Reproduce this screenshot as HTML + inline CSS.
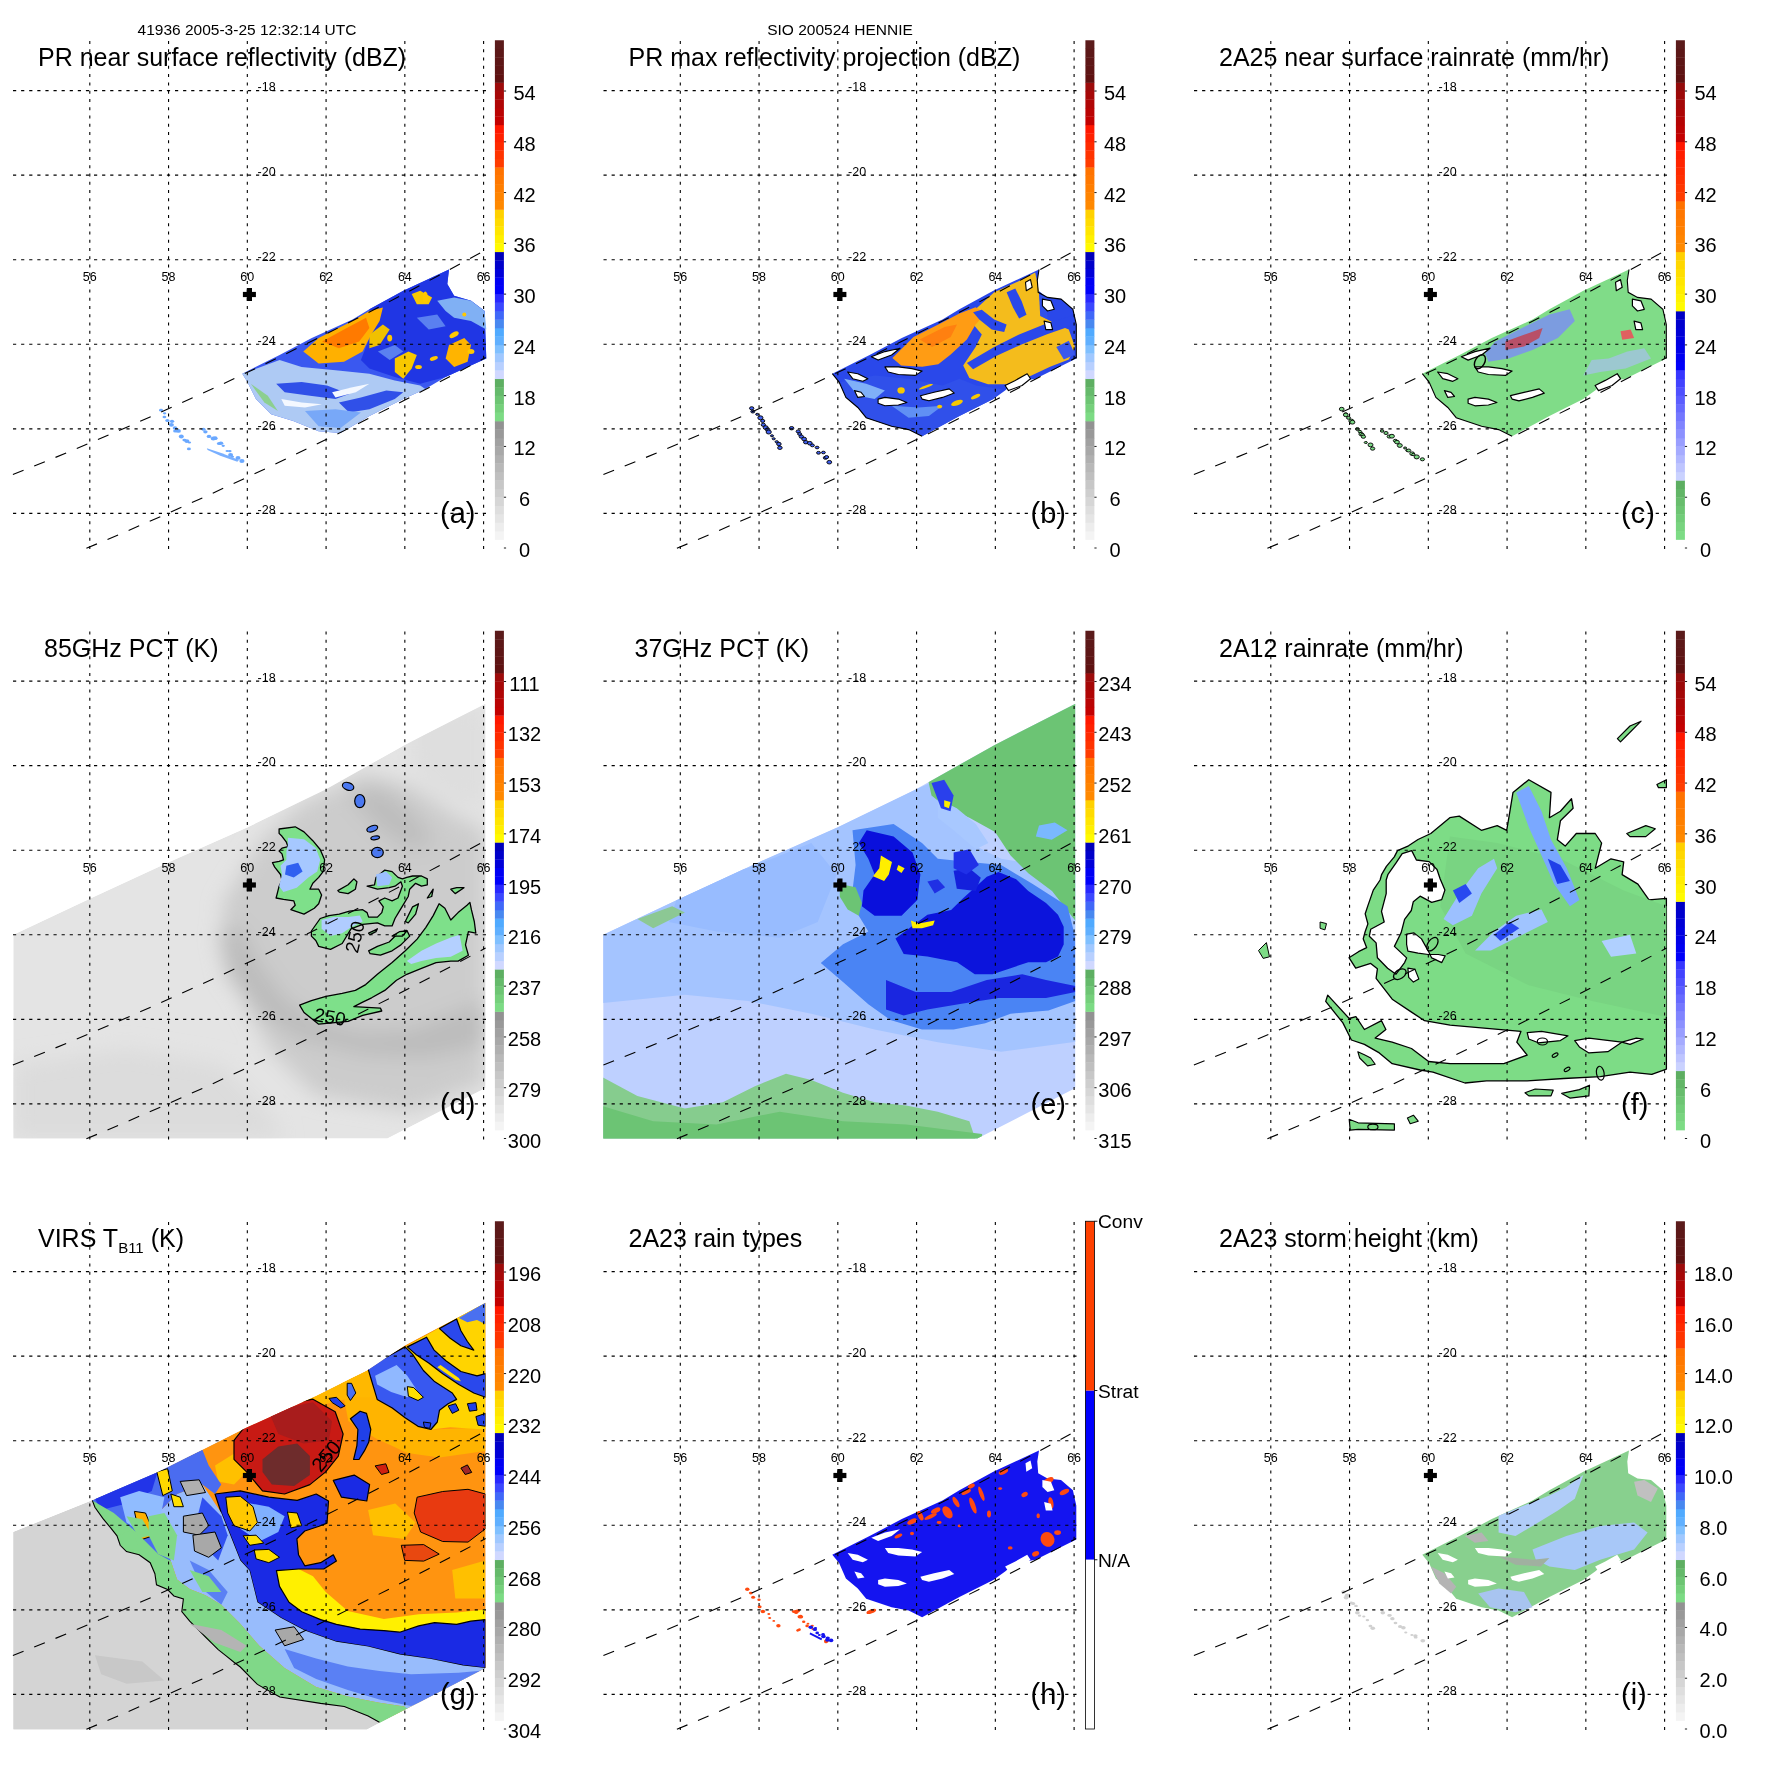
<!DOCTYPE html>
<html><head><meta charset="utf-8"><style>html,body{margin:0;padding:0;background:#fff;overflow:hidden}svg{display:block;will-change:transform}</style></head>
<body><svg width="1771" height="1771" viewBox="0 0 1771 1771" font-family="Liberation Sans, sans-serif">
<rect width="1771" height="1771" fill="#fff"/>
<text x="247" y="35" font-size="15.5" text-anchor="middle">41936 2005-3-25 12:32:14 UTC</text><text x="840" y="35" font-size="15.5" text-anchor="middle">SIO 200524 HENNIE</text><g transform="translate(0.0,0.0)"><g><path d="M242.3,373.7 L279.6,355.0 L311.8,338.1 L352.5,319.5 L369.4,309.3 L403.3,290.7 L449.0,269.5 L449.0,269.5 L447.3,283.9 L454.1,295.7 L471.0,300.8 L484.6,311.0 L486.3,358.4 L445.6,377.0 L425.3,388.9 L403.3,399.1 L369.4,416.0 L340.6,432.9 L318.6,431.3 L293.2,421.1 L271.1,414.3 L255.9,399.1 L247.4,382.1Z" fill="#3a58f0" /><path d="M242.3,373.7 L279.6,360.1 L301.6,366.9 L335.5,370.3 L369.4,373.7 L394.8,380.4 L420.2,385.5 L425.3,388.9 L403.3,399.1 L369.4,416.0 L340.6,432.9 L318.6,431.3 L293.2,421.1 L271.1,414.3 L255.9,399.1 L247.4,382.1Z" fill="#aecaf4" /><path d="M276.2,383.8 L301.6,382.1 L327.0,385.5 L349.1,394.0 L335.5,399.1 L310.1,395.7 L284.7,392.3Z" fill="#3050e8" /><path d="M338.9,402.5 L360.9,397.4 L386.3,390.6 L403.3,392.3 L394.8,399.1 L369.4,409.2 L349.1,412.6Z" fill="#3050e8" /><path d="M305.0,410.9 L335.5,409.2 L360.9,412.6 L340.6,427.9 L318.6,426.2Z" fill="#78a8f8" /><path d="M281.3,399.1 L301.6,402.5 L322.0,404.2 L305.0,407.5 L284.7,405.8Z" fill="#f4f8ff" /><path d="M332.1,392.3 L352.5,387.2 L369.4,383.8 L355.8,392.3 L335.5,397.4Z" fill="#f4f8ff" /><path d="M250.8,383.8 L267.8,395.7 L277.9,410.9 L264.4,402.5Z" fill="#8ccf90" /><path d="M369.4,309.3 L403.3,290.7 L449.0,269.5 L447.3,283.9 L454.1,295.7 L471.0,300.8 L484.6,311.0 L486.3,358.4 L445.6,377.0 L420.2,383.8 L394.8,377.0 L369.4,368.6 L360.9,360.1 L369.4,338.1Z" fill="#2036e4" /><path d="M437.2,300.8 L454.1,297.4 L471.0,300.8 L484.6,311.0 L486.3,329.6 L471.0,321.1 L454.1,317.8 L445.6,311.0Z" fill="#80b0f4" /><path d="M416.8,317.8 L437.2,314.4 L445.6,326.2 L428.7,329.6Z" fill="#5a80f0" /><path d="M377.9,351.6 L394.8,344.9 L403.3,351.6 L389.7,360.1Z" fill="#5a80f0" /><path d="M303.3,351.6 L318.6,338.1 L335.5,329.6 L352.5,321.1 L369.4,311.0 L382.9,307.6 L379.6,321.1 L371.1,334.7 L362.6,351.6 L344.0,361.8 L318.6,363.5Z" fill="#ffb000" /><path d="M322.0,341.5 L344.0,329.6 L366.0,317.8 L369.4,327.9 L359.2,341.5 L338.9,348.2Z" fill="#ff7a00" /><path d="M449.0,344.9 L464.3,338.1 L471.0,344.9 L467.6,361.8 L454.1,366.9 L445.6,358.4Z" fill="#ffb400" /><path d="M394.8,358.4 L408.4,351.6 L416.8,355.0 L411.7,368.6 L403.3,378.7 L394.8,372.0Z" fill="#f8c800" /><path d="M411.7,294.0 L420.2,290.7 L432.1,297.4 L428.7,304.2 L416.8,304.2Z" fill="#f8c800" /><path d="M369.4,334.7 L382.9,324.5 L389.7,329.6 L379.6,344.9 L369.4,348.2Z" fill="#f0c000" /><ellipse cx="425.3" cy="297.4" rx="2.5" ry="5.9" fill="#ffc800" transform="rotate(0 425.3 297.4)"/><ellipse cx="454.1" cy="334.7" rx="5.1" ry="2.5" fill="#ffc800" transform="rotate(-30 454.1 334.7)"/><ellipse cx="433.8" cy="358.4" rx="4.2" ry="2.0" fill="#ffc800" transform="rotate(-20 433.8 358.4)"/><ellipse cx="418.5" cy="366.9" rx="3.4" ry="2.0" fill="#ffc800" transform="rotate(0 418.5 366.9)"/><ellipse cx="389.7" cy="338.1" rx="2.5" ry="3.4" fill="#ffc800" transform="rotate(0 389.7 338.1)"/><ellipse cx="471.0" cy="351.6" rx="3.4" ry="2.5" fill="#ffc800" transform="rotate(0 471.0 351.6)"/><ellipse cx="464.3" cy="314.4" rx="2.0" ry="2.0" fill="#ffc800" transform="rotate(0 464.3 314.4)"/><path d="M206.8,448.2 L222.0,453.3 L239.0,460.1 L237.3,461.7 L220.3,455.8 L207.6,449.9Z" fill="#7ab0ff"/><ellipse cx="161.0" cy="410.2" rx="2.0" ry="1.4" fill="#6aa8ff"/><ellipse cx="164.6" cy="413.3" rx="1.7" ry="1.1" fill="#6aa8ff"/><ellipse cx="164.4" cy="417.0" rx="1.9" ry="1.3" fill="#6aa8ff"/><ellipse cx="167.4" cy="420.5" rx="2.1" ry="1.5" fill="#6aa8ff"/><ellipse cx="172.0" cy="421.3" rx="2.2" ry="1.6" fill="#6aa8ff"/><ellipse cx="171.4" cy="424.8" rx="2.5" ry="1.9" fill="#6aa8ff"/><ellipse cx="175.0" cy="428.0" rx="2.3" ry="1.7" fill="#6aa8ff"/><ellipse cx="175.3" cy="431.0" rx="2.2" ry="1.6" fill="#6aa8ff"/><ellipse cx="178.4" cy="430.9" rx="2.5" ry="1.9" fill="#6aa8ff"/><ellipse cx="181.3" cy="436.5" rx="2.5" ry="1.9" fill="#6aa8ff"/><ellipse cx="184.4" cy="440.1" rx="2.0" ry="1.4" fill="#6aa8ff"/><ellipse cx="186.9" cy="441.1" rx="2.5" ry="1.9" fill="#6aa8ff"/><ellipse cx="189.4" cy="442.5" rx="1.7" ry="1.1" fill="#6aa8ff"/><ellipse cx="188.9" cy="448.9" rx="2.0" ry="1.4" fill="#6aa8ff"/><ellipse cx="203.5" cy="429.2" rx="2.1" ry="1.5" fill="#6aa8ff"/><ellipse cx="205.4" cy="431.8" rx="2.2" ry="1.6" fill="#6aa8ff"/><ellipse cx="209.0" cy="436.4" rx="2.3" ry="1.7" fill="#6aa8ff"/><ellipse cx="213.3" cy="438.6" rx="2.6" ry="2.0" fill="#6aa8ff"/><ellipse cx="215.1" cy="438.2" rx="2.5" ry="1.9" fill="#6aa8ff"/><ellipse cx="219.1" cy="443.5" rx="2.2" ry="1.6" fill="#6aa8ff"/><ellipse cx="220.9" cy="443.2" rx="2.4" ry="1.8" fill="#6aa8ff"/><ellipse cx="223.2" cy="445.8" rx="1.7" ry="1.1" fill="#6aa8ff"/><ellipse cx="227.2" cy="451.0" rx="1.7" ry="1.1" fill="#6aa8ff"/><ellipse cx="229.8" cy="451.1" rx="1.8" ry="1.2" fill="#6aa8ff"/><ellipse cx="230.6" cy="454.9" rx="2.5" ry="1.9" fill="#6aa8ff"/><ellipse cx="232.5" cy="456.7" rx="1.6" ry="1.0" fill="#6aa8ff"/><ellipse cx="238.0" cy="457.9" rx="2.5" ry="1.9" fill="#6aa8ff"/><ellipse cx="241.9" cy="461.0" rx="2.6" ry="2.0" fill="#6aa8ff"/></g><line x1="89.80" y1="41" x2="89.80" y2="550" stroke="#000" stroke-width="1.1" stroke-dasharray="3 5.28"/><line x1="168.56" y1="41" x2="168.56" y2="550" stroke="#000" stroke-width="1.1" stroke-dasharray="3 5.28"/><line x1="247.32" y1="41" x2="247.32" y2="550" stroke="#000" stroke-width="1.1" stroke-dasharray="3 5.28"/><line x1="326.08" y1="41" x2="326.08" y2="550" stroke="#000" stroke-width="1.1" stroke-dasharray="3 5.28"/><line x1="404.84" y1="41" x2="404.84" y2="550" stroke="#000" stroke-width="1.1" stroke-dasharray="3 5.28"/><line x1="483.60" y1="41" x2="483.60" y2="550" stroke="#000" stroke-width="1.1" stroke-dasharray="3 5.28"/><line x1="13" y1="90.60" x2="486" y2="90.60" stroke="#000" stroke-width="1.1" stroke-dasharray="3.2 4.9"/><line x1="13" y1="175.16" x2="486" y2="175.16" stroke="#000" stroke-width="1.1" stroke-dasharray="3.2 4.9"/><line x1="13" y1="259.72" x2="486" y2="259.72" stroke="#000" stroke-width="1.1" stroke-dasharray="3.2 4.9"/><line x1="13" y1="344.28" x2="486" y2="344.28" stroke="#000" stroke-width="1.1" stroke-dasharray="3.2 4.9"/><line x1="13" y1="428.84" x2="486" y2="428.84" stroke="#000" stroke-width="1.1" stroke-dasharray="3.2 4.9"/><line x1="13" y1="513.40" x2="486" y2="513.40" stroke="#000" stroke-width="1.1" stroke-dasharray="3.2 4.9"/><path d="M12.9,474.6 Q249.2,380.7 485.6,249.9" fill="none" stroke="#000" stroke-width="1.1" stroke-dasharray="11.5 11.5"/><path d="M86.4,548.3 Q286.0,465.0 485.6,357.5" fill="none" stroke="#000" stroke-width="1.1" stroke-dasharray="11.5 11.5"/><text x="257.6" y="91.40" font-size="12.5">-18</text><text x="257.6" y="175.96" font-size="12.5">-20</text><text x="257.6" y="260.52" font-size="12.5">-22</text><text x="257.6" y="345.08" font-size="12.5">-24</text><text x="257.6" y="429.64" font-size="12.5">-26</text><text x="257.6" y="514.20" font-size="12.5">-28</text><text x="89.80" y="281" font-size="12.5" text-anchor="middle">56</text><text x="168.56" y="281" font-size="12.5" text-anchor="middle">58</text><text x="247.32" y="281" font-size="12.5" text-anchor="middle">60</text><text x="326.08" y="281" font-size="12.5" text-anchor="middle">62</text><text x="404.84" y="281" font-size="12.5" text-anchor="middle">64</text><text x="483.60" y="281" font-size="12.5" text-anchor="middle">66</text><rect x="242.9" y="291.9" width="13" height="5.2" fill="#000"/><rect x="246.8" y="288.0" width="5.2" height="13" fill="#000"/><rect x="494.9" y="531.08" width="9.0" height="8.76" fill="#f4f4f4"/><rect x="494.9" y="522.61" width="9.0" height="8.76" fill="#ededed"/><rect x="494.9" y="514.15" width="9.0" height="8.76" fill="#e5e5e5"/><rect x="494.9" y="505.69" width="9.0" height="8.76" fill="#dedede"/><rect x="494.9" y="497.23" width="9.0" height="8.76" fill="#d6d6d6"/><rect x="494.9" y="488.76" width="9.0" height="8.76" fill="#cecece"/><rect x="494.9" y="480.30" width="9.0" height="8.76" fill="#c7c7c7"/><rect x="494.9" y="471.84" width="9.0" height="8.76" fill="#bfbfbf"/><rect x="494.9" y="463.38" width="9.0" height="8.76" fill="#b8b8b8"/><rect x="494.9" y="454.91" width="9.0" height="8.76" fill="#b0b0b0"/><rect x="494.9" y="446.45" width="9.0" height="8.76" fill="#a8a8a8"/><rect x="494.9" y="437.99" width="9.0" height="8.76" fill="#a1a1a1"/><rect x="494.9" y="429.52" width="9.0" height="8.76" fill="#999999"/><rect x="494.9" y="421.06" width="9.0" height="8.76" fill="#929292"/><rect x="494.9" y="412.60" width="9.0" height="8.76" fill="#7cdb84"/><rect x="494.9" y="404.14" width="9.0" height="8.76" fill="#75d07b"/><rect x="494.9" y="395.67" width="9.0" height="8.76" fill="#6dc573"/><rect x="494.9" y="387.21" width="9.0" height="8.76" fill="#65ba6b"/><rect x="494.9" y="378.75" width="9.0" height="8.76" fill="#5eaf62"/><rect x="494.9" y="370.29" width="9.0" height="8.76" fill="#d0d8ff"/><rect x="494.9" y="361.82" width="9.0" height="8.76" fill="#b8d0ff"/><rect x="494.9" y="353.36" width="9.0" height="8.76" fill="#a0c8ff"/><rect x="494.9" y="344.90" width="9.0" height="8.76" fill="#80c0ff"/><rect x="494.9" y="336.44" width="9.0" height="8.76" fill="#60b0ff"/><rect x="494.9" y="327.98" width="9.0" height="8.76" fill="#50aaff"/><rect x="494.9" y="319.51" width="9.0" height="8.76" fill="#4888f0"/><rect x="494.9" y="311.05" width="9.0" height="8.76" fill="#4068f8"/><rect x="494.9" y="302.59" width="9.0" height="8.76" fill="#3a48ff"/><rect x="494.9" y="294.12" width="9.0" height="8.76" fill="#2828ff"/><rect x="494.9" y="285.66" width="9.0" height="8.76" fill="#0000fb"/><rect x="494.9" y="277.20" width="9.0" height="8.76" fill="#0000f4"/><rect x="494.9" y="268.74" width="9.0" height="8.76" fill="#0000d9"/><rect x="494.9" y="260.27" width="9.0" height="8.76" fill="#0000ca"/><rect x="494.9" y="251.81" width="9.0" height="8.76" fill="#0000bb"/><rect x="494.9" y="243.35" width="9.0" height="8.76" fill="#fffa00"/><rect x="494.9" y="234.89" width="9.0" height="8.76" fill="#fff000"/><rect x="494.9" y="226.43" width="9.0" height="8.76" fill="#ffe600"/><rect x="494.9" y="217.96" width="9.0" height="8.76" fill="#ffdb00"/><rect x="494.9" y="209.50" width="9.0" height="8.76" fill="#ffd100"/><rect x="494.9" y="201.04" width="9.0" height="8.76" fill="#ff8900"/><rect x="494.9" y="192.57" width="9.0" height="8.76" fill="#ff8400"/><rect x="494.9" y="184.11" width="9.0" height="8.76" fill="#ff7e00"/><rect x="494.9" y="175.65" width="9.0" height="8.76" fill="#ff7800"/><rect x="494.9" y="167.19" width="9.0" height="8.76" fill="#ff7300"/><rect x="494.9" y="158.72" width="9.0" height="8.76" fill="#ff3c00"/><rect x="494.9" y="150.26" width="9.0" height="8.76" fill="#ff3300"/><rect x="494.9" y="141.80" width="9.0" height="8.76" fill="#ff2a00"/><rect x="494.9" y="133.34" width="9.0" height="8.76" fill="#ff2100"/><rect x="494.9" y="124.88" width="9.0" height="8.76" fill="#ff1800"/><rect x="494.9" y="116.41" width="9.0" height="8.76" fill="#c30101"/><rect x="494.9" y="107.95" width="9.0" height="8.76" fill="#ba0404"/><rect x="494.9" y="99.49" width="9.0" height="8.76" fill="#b00606"/><rect x="494.9" y="91.02" width="9.0" height="8.76" fill="#a60808"/><rect x="494.9" y="82.56" width="9.0" height="8.76" fill="#9d0b0b"/><rect x="494.9" y="74.10" width="9.0" height="8.76" fill="#5f1111"/><rect x="494.9" y="65.64" width="9.0" height="8.76" fill="#5e1414"/><rect x="494.9" y="57.17" width="9.0" height="8.76" fill="#5d1616"/><rect x="494.9" y="48.71" width="9.0" height="8.76" fill="#5c1818"/><rect x="494.9" y="40.25" width="9.0" height="8.76" fill="#5b1b1b"/><line x1="503.9" y1="548.00" x2="506.09999999999997" y2="548.00" stroke="#000" stroke-width="0.9"/><text x="524.5" y="557.00" font-size="20" text-anchor="middle">0</text><line x1="503.9" y1="497.23" x2="506.09999999999997" y2="497.23" stroke="#000" stroke-width="0.9"/><text x="524.5" y="506.23" font-size="20" text-anchor="middle">6</text><line x1="503.9" y1="446.45" x2="506.09999999999997" y2="446.45" stroke="#000" stroke-width="0.9"/><text x="524.5" y="455.45" font-size="20" text-anchor="middle">12</text><line x1="503.9" y1="395.67" x2="506.09999999999997" y2="395.67" stroke="#000" stroke-width="0.9"/><text x="524.5" y="404.67" font-size="20" text-anchor="middle">18</text><line x1="503.9" y1="344.90" x2="506.09999999999997" y2="344.90" stroke="#000" stroke-width="0.9"/><text x="524.5" y="353.90" font-size="20" text-anchor="middle">24</text><line x1="503.9" y1="294.12" x2="506.09999999999997" y2="294.12" stroke="#000" stroke-width="0.9"/><text x="524.5" y="303.12" font-size="20" text-anchor="middle">30</text><line x1="503.9" y1="243.35" x2="506.09999999999997" y2="243.35" stroke="#000" stroke-width="0.9"/><text x="524.5" y="252.35" font-size="20" text-anchor="middle">36</text><line x1="503.9" y1="192.57" x2="506.09999999999997" y2="192.57" stroke="#000" stroke-width="0.9"/><text x="524.5" y="201.57" font-size="20" text-anchor="middle">42</text><line x1="503.9" y1="141.80" x2="506.09999999999997" y2="141.80" stroke="#000" stroke-width="0.9"/><text x="524.5" y="150.80" font-size="20" text-anchor="middle">48</text><line x1="503.9" y1="91.02" x2="506.09999999999997" y2="91.02" stroke="#000" stroke-width="0.9"/><text x="524.5" y="100.02" font-size="20" text-anchor="middle">54</text><text x="38" y="66" font-size="25">PR near surface reflectivity (dBZ)</text><text x="440" y="523" font-size="29">(a)</text></g><g transform="translate(590.5,0.0)"><g><path d="M241.8,373.7 L279.1,355.0 L311.3,338.1 L352.0,319.5 L368.9,309.3 L402.8,290.7 L448.5,269.5 L446.8,280.5 L447.7,292.3 L457.0,297.4 L470.5,299.1 L482.4,309.3 L485.8,324.5 L485.8,358.4 L445.1,378.7 L424.8,382.1 L414.6,390.6 L402.8,399.1 L368.9,416.0 L331.6,436.3 L318.1,429.6 L301.1,426.2 L275.7,417.7 L267.3,407.5 L255.4,397.4 L248.6,382.1Z" fill="#2a48ea" /><path d="M250.3,382.1 L284.2,375.4 L318.1,378.7 L352.0,385.5 L368.9,378.7 L385.8,385.5 L411.2,388.9 L402.8,399.1 L368.9,416.0 L331.6,436.3 L318.1,429.6 L301.1,426.2 L275.7,417.7 L267.3,407.5 L255.4,397.4Z" fill="#3050ea" /><path d="M253.7,378.7 L275.7,383.8 L294.4,390.6 L284.2,399.1 L267.3,395.7Z" fill="#80b0f8" /><path d="M301.1,405.8 L328.2,407.5 L352.0,405.8 L338.4,416.0 L318.1,417.7Z" fill="#6090f4" /><path d="M376.4,317.1 L403.7,292.3 L428.6,281.1 L444.7,272.4 L448.4,291.1 L450.9,315.9 L465.8,324.6 L478.3,329.6 L484.5,347.0 L478.3,359.4 L459.6,366.8 L441.0,375.5 L416.1,384.2 L397.5,384.2 L378.9,378.0 L372.7,365.6 L385.1,347.0 L391.3,334.5Z" fill="#f4bc1c" /><path d="M301.9,358.1 L323.0,337.0 L347.8,324.6 L368.9,313.4 L385.1,307.2 L395.0,313.4 L385.1,324.6 L376.4,339.5 L360.2,354.4 L347.8,364.3 L331.7,366.8 L310.6,365.6Z" fill="#ff9c14" /><path d="M329.2,339.5 L354.0,327.1 L366.5,324.6 L360.2,337.0 L341.6,347.0Z" fill="#ff8010" /><path d="M376.4,363.1 L403.7,347.0 L428.6,334.5 L453.4,324.6 L484.5,314.7 L484.5,324.6 L455.9,334.5 L431.1,344.5 L406.2,355.7 L382.6,369.3Z" fill="#2a48ea" /><path d="M382.6,312.2 L391.3,309.7 L403.7,319.6 L416.1,324.6 L413.7,332.0 L401.2,329.6 L388.8,319.6Z" fill="#2a48ea" /><path d="M416.1,292.3 L424.8,288.6 L431.1,301.0 L436.0,314.7 L428.6,318.4 L422.4,307.2Z" fill="#2a48ea" /><path d="M448.4,291.1 L455.9,297.3 L457.1,319.6 L449.7,315.9Z" fill="#3050ea" /><path d="M465.8,347.0 L478.3,340.7 L484.5,354.4 L473.3,359.4Z" fill="#3a58ec" /><ellipse cx="310.6" cy="390.4" rx="3.7" ry="3.1" fill="#f8c800" transform="rotate(0 310.6 390.4)"/><ellipse cx="335.4" cy="386.7" rx="7.5" ry="1.2" fill="#f8c800" transform="rotate(-20 335.4 386.7)"/><ellipse cx="366.5" cy="402.9" rx="6.2" ry="2.5" fill="#f8c800" transform="rotate(-20 366.5 402.9)"/><ellipse cx="385.1" cy="396.6" rx="5.0" ry="1.9" fill="#f8c800" transform="rotate(-25 385.1 396.6)"/><ellipse cx="349.1" cy="406.6" rx="2.5" ry="1.9" fill="#f8c800" transform="rotate(0 349.1 406.6)"/><ellipse cx="360.2" cy="391.7" rx="2.5" ry="1.5" fill="#f8c800" transform="rotate(0 360.2 391.7)"/><path d="M287.6,399.1 L294.4,397.4 L307.9,399.1 L316.4,402.5 L307.9,405.0 L294.4,405.8 L287.6,403.3Z" fill="#fff" stroke="#000" stroke-width="1.1" stroke-linejoin="round" /><path d="M329.9,395.7 L343.5,392.3 L358.7,388.9 L363.8,393.1 L352.0,397.4 L338.4,400.8 L331.6,399.1Z" fill="#fff" stroke="#000" stroke-width="1.1" stroke-linejoin="round" /><path d="M294.4,366.9 L307.9,366.9 L321.5,368.6 L331.6,371.1 L324.9,375.4 L307.9,374.5 L297.7,372.0Z" fill="#fff" stroke="#000" stroke-width="1.1" stroke-linejoin="round" /><path d="M257.1,372.0 L267.3,373.7 L277.4,378.7 L272.3,381.3 L262.2,378.7Z" fill="#fff" stroke="#000" stroke-width="1.1" stroke-linejoin="round" /><path d="M263.9,390.6 L270.6,392.3 L274.0,396.5 L267.3,397.4Z" fill="#fff" stroke="#000" stroke-width="1.1" stroke-linejoin="round" /><path d="M414.6,385.5 L424.8,380.4 L436.7,373.7 L440.0,378.7 L431.6,385.5 L418.0,390.6Z" fill="#fff" stroke="#000" stroke-width="1.1" stroke-linejoin="round" /><path d="M451.9,299.1 L460.4,300.8 L463.8,309.3 L457.0,311.0 L451.9,305.9Z" fill="#fff" stroke="#000" stroke-width="1.1" stroke-linejoin="round" /><path d="M453.6,321.1 L460.4,322.8 L462.1,329.6 L455.3,329.6Z" fill="#fff" stroke="#000" stroke-width="1.1" stroke-linejoin="round" /><path d="M435.0,282.2 L440.0,279.6 L441.7,287.3 L435.8,290.7Z" fill="#fff" stroke="#000" stroke-width="1.1" stroke-linejoin="round" /><path d="M280.8,356.7 L294.4,351.6 L309.6,348.2 L301.1,355.0 L287.6,360.1Z" fill="#fff" stroke="#000" stroke-width="1.1" stroke-linejoin="round" /><path d="M241.8,373.7 L248.6,382.1 L255.4,397.4 L267.3,407.5 L275.7,417.7 L301.1,426.2 L318.1,429.6 L331.6,436.3" fill="none" stroke="#000" stroke-width="1.1"/><path d="M448.5,269.5 L446.8,280.5 L447.7,292.3 L457.0,297.4 L470.5,299.1 L482.4,309.3 L485.8,324.5 L485.8,358.4" fill="none" stroke="#000" stroke-width="1.1"/><ellipse cx="161.2" cy="408.3" rx="2.2" ry="1.6" fill="#4060f0" stroke="#000" stroke-width="0.9"/><ellipse cx="162.3" cy="411.6" rx="2.0" ry="1.4" fill="#4060f0" stroke="#000" stroke-width="0.9"/><ellipse cx="166.7" cy="414.3" rx="1.6" ry="1.0" fill="#4060f0" stroke="#000" stroke-width="0.9"/><ellipse cx="169.9" cy="417.8" rx="2.6" ry="2.0" fill="#4060f0" stroke="#000" stroke-width="0.9"/><ellipse cx="172.2" cy="420.9" rx="2.1" ry="1.5" fill="#4060f0" stroke="#000" stroke-width="0.9"/><ellipse cx="172.8" cy="424.8" rx="2.2" ry="1.6" fill="#4060f0" stroke="#000" stroke-width="0.9"/><ellipse cx="175.2" cy="427.6" rx="2.5" ry="1.9" fill="#4060f0" stroke="#000" stroke-width="0.9"/><ellipse cx="177.1" cy="429.6" rx="2.3" ry="1.7" fill="#4060f0" stroke="#000" stroke-width="0.9"/><ellipse cx="178.2" cy="432.0" rx="2.6" ry="2.0" fill="#4060f0" stroke="#000" stroke-width="0.9"/><ellipse cx="181.5" cy="435.8" rx="1.6" ry="1.0" fill="#4060f0" stroke="#000" stroke-width="0.9"/><ellipse cx="183.2" cy="438.8" rx="1.6" ry="1.0" fill="#4060f0" stroke="#000" stroke-width="0.9"/><ellipse cx="186.2" cy="441.8" rx="1.7" ry="1.1" fill="#4060f0" stroke="#000" stroke-width="0.9"/><ellipse cx="188.4" cy="444.0" rx="2.3" ry="1.7" fill="#4060f0" stroke="#000" stroke-width="0.9"/><ellipse cx="189.4" cy="447.8" rx="2.3" ry="1.7" fill="#4060f0" stroke="#000" stroke-width="0.9"/><ellipse cx="201.1" cy="428.2" rx="2.3" ry="1.7" fill="#4060f0" stroke="#000" stroke-width="0.9"/><ellipse cx="207.7" cy="431.4" rx="2.1" ry="1.5" fill="#4060f0" stroke="#000" stroke-width="0.9"/><ellipse cx="209.1" cy="434.0" rx="2.0" ry="1.4" fill="#4060f0" stroke="#000" stroke-width="0.9"/><ellipse cx="210.8" cy="436.6" rx="2.2" ry="1.6" fill="#4060f0" stroke="#000" stroke-width="0.9"/><ellipse cx="213.6" cy="439.0" rx="2.4" ry="1.8" fill="#4060f0" stroke="#000" stroke-width="0.9"/><ellipse cx="215.3" cy="442.2" rx="2.3" ry="1.7" fill="#4060f0" stroke="#000" stroke-width="0.9"/><ellipse cx="219.3" cy="443.2" rx="2.4" ry="1.8" fill="#4060f0" stroke="#000" stroke-width="0.9"/><ellipse cx="221.9" cy="445.4" rx="2.0" ry="1.4" fill="#4060f0" stroke="#000" stroke-width="0.9"/><ellipse cx="226.6" cy="447.5" rx="1.9" ry="1.3" fill="#4060f0" stroke="#000" stroke-width="0.9"/><ellipse cx="228.0" cy="452.8" rx="2.0" ry="1.4" fill="#4060f0" stroke="#000" stroke-width="0.9"/><ellipse cx="232.9" cy="452.5" rx="1.9" ry="1.3" fill="#4060f0" stroke="#000" stroke-width="0.9"/><ellipse cx="234.9" cy="457.8" rx="2.1" ry="1.5" fill="#4060f0" stroke="#000" stroke-width="0.9"/><ellipse cx="236.1" cy="457.1" rx="2.1" ry="1.5" fill="#4060f0" stroke="#000" stroke-width="0.9"/><ellipse cx="238.8" cy="462.2" rx="2.4" ry="1.8" fill="#4060f0" stroke="#000" stroke-width="0.9"/></g><line x1="89.80" y1="41" x2="89.80" y2="550" stroke="#000" stroke-width="1.1" stroke-dasharray="3 5.28"/><line x1="168.56" y1="41" x2="168.56" y2="550" stroke="#000" stroke-width="1.1" stroke-dasharray="3 5.28"/><line x1="247.32" y1="41" x2="247.32" y2="550" stroke="#000" stroke-width="1.1" stroke-dasharray="3 5.28"/><line x1="326.08" y1="41" x2="326.08" y2="550" stroke="#000" stroke-width="1.1" stroke-dasharray="3 5.28"/><line x1="404.84" y1="41" x2="404.84" y2="550" stroke="#000" stroke-width="1.1" stroke-dasharray="3 5.28"/><line x1="483.60" y1="41" x2="483.60" y2="550" stroke="#000" stroke-width="1.1" stroke-dasharray="3 5.28"/><line x1="13" y1="90.60" x2="486" y2="90.60" stroke="#000" stroke-width="1.1" stroke-dasharray="3.2 4.9"/><line x1="13" y1="175.16" x2="486" y2="175.16" stroke="#000" stroke-width="1.1" stroke-dasharray="3.2 4.9"/><line x1="13" y1="259.72" x2="486" y2="259.72" stroke="#000" stroke-width="1.1" stroke-dasharray="3.2 4.9"/><line x1="13" y1="344.28" x2="486" y2="344.28" stroke="#000" stroke-width="1.1" stroke-dasharray="3.2 4.9"/><line x1="13" y1="428.84" x2="486" y2="428.84" stroke="#000" stroke-width="1.1" stroke-dasharray="3.2 4.9"/><line x1="13" y1="513.40" x2="486" y2="513.40" stroke="#000" stroke-width="1.1" stroke-dasharray="3.2 4.9"/><path d="M12.9,474.6 Q249.2,380.7 485.6,249.9" fill="none" stroke="#000" stroke-width="1.1" stroke-dasharray="11.5 11.5"/><path d="M86.4,548.3 Q286.0,465.0 485.6,357.5" fill="none" stroke="#000" stroke-width="1.1" stroke-dasharray="11.5 11.5"/><text x="257.6" y="91.40" font-size="12.5">-18</text><text x="257.6" y="175.96" font-size="12.5">-20</text><text x="257.6" y="260.52" font-size="12.5">-22</text><text x="257.6" y="345.08" font-size="12.5">-24</text><text x="257.6" y="429.64" font-size="12.5">-26</text><text x="257.6" y="514.20" font-size="12.5">-28</text><text x="89.80" y="281" font-size="12.5" text-anchor="middle">56</text><text x="168.56" y="281" font-size="12.5" text-anchor="middle">58</text><text x="247.32" y="281" font-size="12.5" text-anchor="middle">60</text><text x="326.08" y="281" font-size="12.5" text-anchor="middle">62</text><text x="404.84" y="281" font-size="12.5" text-anchor="middle">64</text><text x="483.60" y="281" font-size="12.5" text-anchor="middle">66</text><rect x="242.9" y="291.9" width="13" height="5.2" fill="#000"/><rect x="246.8" y="288.0" width="5.2" height="13" fill="#000"/><rect x="494.9" y="531.08" width="9.0" height="8.76" fill="#f4f4f4"/><rect x="494.9" y="522.61" width="9.0" height="8.76" fill="#ededed"/><rect x="494.9" y="514.15" width="9.0" height="8.76" fill="#e5e5e5"/><rect x="494.9" y="505.69" width="9.0" height="8.76" fill="#dedede"/><rect x="494.9" y="497.23" width="9.0" height="8.76" fill="#d6d6d6"/><rect x="494.9" y="488.76" width="9.0" height="8.76" fill="#cecece"/><rect x="494.9" y="480.30" width="9.0" height="8.76" fill="#c7c7c7"/><rect x="494.9" y="471.84" width="9.0" height="8.76" fill="#bfbfbf"/><rect x="494.9" y="463.38" width="9.0" height="8.76" fill="#b8b8b8"/><rect x="494.9" y="454.91" width="9.0" height="8.76" fill="#b0b0b0"/><rect x="494.9" y="446.45" width="9.0" height="8.76" fill="#a8a8a8"/><rect x="494.9" y="437.99" width="9.0" height="8.76" fill="#a1a1a1"/><rect x="494.9" y="429.52" width="9.0" height="8.76" fill="#999999"/><rect x="494.9" y="421.06" width="9.0" height="8.76" fill="#929292"/><rect x="494.9" y="412.60" width="9.0" height="8.76" fill="#7cdb84"/><rect x="494.9" y="404.14" width="9.0" height="8.76" fill="#75d07b"/><rect x="494.9" y="395.67" width="9.0" height="8.76" fill="#6dc573"/><rect x="494.9" y="387.21" width="9.0" height="8.76" fill="#65ba6b"/><rect x="494.9" y="378.75" width="9.0" height="8.76" fill="#5eaf62"/><rect x="494.9" y="370.29" width="9.0" height="8.76" fill="#d0d8ff"/><rect x="494.9" y="361.82" width="9.0" height="8.76" fill="#b8d0ff"/><rect x="494.9" y="353.36" width="9.0" height="8.76" fill="#a0c8ff"/><rect x="494.9" y="344.90" width="9.0" height="8.76" fill="#80c0ff"/><rect x="494.9" y="336.44" width="9.0" height="8.76" fill="#60b0ff"/><rect x="494.9" y="327.98" width="9.0" height="8.76" fill="#50aaff"/><rect x="494.9" y="319.51" width="9.0" height="8.76" fill="#4888f0"/><rect x="494.9" y="311.05" width="9.0" height="8.76" fill="#4068f8"/><rect x="494.9" y="302.59" width="9.0" height="8.76" fill="#3a48ff"/><rect x="494.9" y="294.12" width="9.0" height="8.76" fill="#2828ff"/><rect x="494.9" y="285.66" width="9.0" height="8.76" fill="#0000fb"/><rect x="494.9" y="277.20" width="9.0" height="8.76" fill="#0000f4"/><rect x="494.9" y="268.74" width="9.0" height="8.76" fill="#0000d9"/><rect x="494.9" y="260.27" width="9.0" height="8.76" fill="#0000ca"/><rect x="494.9" y="251.81" width="9.0" height="8.76" fill="#0000bb"/><rect x="494.9" y="243.35" width="9.0" height="8.76" fill="#fffa00"/><rect x="494.9" y="234.89" width="9.0" height="8.76" fill="#fff000"/><rect x="494.9" y="226.43" width="9.0" height="8.76" fill="#ffe600"/><rect x="494.9" y="217.96" width="9.0" height="8.76" fill="#ffdb00"/><rect x="494.9" y="209.50" width="9.0" height="8.76" fill="#ffd100"/><rect x="494.9" y="201.04" width="9.0" height="8.76" fill="#ff8900"/><rect x="494.9" y="192.57" width="9.0" height="8.76" fill="#ff8400"/><rect x="494.9" y="184.11" width="9.0" height="8.76" fill="#ff7e00"/><rect x="494.9" y="175.65" width="9.0" height="8.76" fill="#ff7800"/><rect x="494.9" y="167.19" width="9.0" height="8.76" fill="#ff7300"/><rect x="494.9" y="158.72" width="9.0" height="8.76" fill="#ff3c00"/><rect x="494.9" y="150.26" width="9.0" height="8.76" fill="#ff3300"/><rect x="494.9" y="141.80" width="9.0" height="8.76" fill="#ff2a00"/><rect x="494.9" y="133.34" width="9.0" height="8.76" fill="#ff2100"/><rect x="494.9" y="124.88" width="9.0" height="8.76" fill="#ff1800"/><rect x="494.9" y="116.41" width="9.0" height="8.76" fill="#c30101"/><rect x="494.9" y="107.95" width="9.0" height="8.76" fill="#ba0404"/><rect x="494.9" y="99.49" width="9.0" height="8.76" fill="#b00606"/><rect x="494.9" y="91.02" width="9.0" height="8.76" fill="#a60808"/><rect x="494.9" y="82.56" width="9.0" height="8.76" fill="#9d0b0b"/><rect x="494.9" y="74.10" width="9.0" height="8.76" fill="#5f1111"/><rect x="494.9" y="65.64" width="9.0" height="8.76" fill="#5e1414"/><rect x="494.9" y="57.17" width="9.0" height="8.76" fill="#5d1616"/><rect x="494.9" y="48.71" width="9.0" height="8.76" fill="#5c1818"/><rect x="494.9" y="40.25" width="9.0" height="8.76" fill="#5b1b1b"/><line x1="503.9" y1="548.00" x2="506.09999999999997" y2="548.00" stroke="#000" stroke-width="0.9"/><text x="524.5" y="557.00" font-size="20" text-anchor="middle">0</text><line x1="503.9" y1="497.23" x2="506.09999999999997" y2="497.23" stroke="#000" stroke-width="0.9"/><text x="524.5" y="506.23" font-size="20" text-anchor="middle">6</text><line x1="503.9" y1="446.45" x2="506.09999999999997" y2="446.45" stroke="#000" stroke-width="0.9"/><text x="524.5" y="455.45" font-size="20" text-anchor="middle">12</text><line x1="503.9" y1="395.67" x2="506.09999999999997" y2="395.67" stroke="#000" stroke-width="0.9"/><text x="524.5" y="404.67" font-size="20" text-anchor="middle">18</text><line x1="503.9" y1="344.90" x2="506.09999999999997" y2="344.90" stroke="#000" stroke-width="0.9"/><text x="524.5" y="353.90" font-size="20" text-anchor="middle">24</text><line x1="503.9" y1="294.12" x2="506.09999999999997" y2="294.12" stroke="#000" stroke-width="0.9"/><text x="524.5" y="303.12" font-size="20" text-anchor="middle">30</text><line x1="503.9" y1="243.35" x2="506.09999999999997" y2="243.35" stroke="#000" stroke-width="0.9"/><text x="524.5" y="252.35" font-size="20" text-anchor="middle">36</text><line x1="503.9" y1="192.57" x2="506.09999999999997" y2="192.57" stroke="#000" stroke-width="0.9"/><text x="524.5" y="201.57" font-size="20" text-anchor="middle">42</text><line x1="503.9" y1="141.80" x2="506.09999999999997" y2="141.80" stroke="#000" stroke-width="0.9"/><text x="524.5" y="150.80" font-size="20" text-anchor="middle">48</text><line x1="503.9" y1="91.02" x2="506.09999999999997" y2="91.02" stroke="#000" stroke-width="0.9"/><text x="524.5" y="100.02" font-size="20" text-anchor="middle">54</text><text x="38" y="66" font-size="25">PR max reflectivity projection (dBZ)</text><text x="440" y="523" font-size="29">(b)</text></g><g transform="translate(1181.0,0.0)"><g><path d="M241.3,373.7 L278.6,355.0 L310.8,338.1 L351.5,319.5 L368.4,309.3 L402.3,290.7 L448.0,269.5 L446.3,280.5 L447.2,292.3 L456.5,297.4 L470.0,299.1 L481.9,309.3 L485.3,324.5 L485.3,358.4 L444.6,378.7 L424.3,382.1 L414.1,390.6 L402.3,399.1 L368.4,416.0 L331.1,436.3 L317.6,429.6 L300.6,426.2 L275.2,417.7 L266.8,407.5 L254.9,397.4 L248.1,382.1Z" fill="#80dc88" /><path d="M314.2,341.5 L334.5,331.3 L368.4,314.4 L388.7,309.3 L393.8,321.1 L376.9,338.1 L351.5,349.9 L327.7,358.4 L307.4,361.8 L304.0,353.3Z" fill="#7c9ce0" /><path d="M324.4,341.5 L348.1,333.0 L361.6,327.9 L358.2,338.1 L343.0,346.6 L324.4,349.9Z" fill="#b85068" /><path d="M410.7,360.1 L427.7,358.4 L446.3,351.6 L463.3,348.2 L470.0,358.4 L444.6,368.6 L419.2,372.0 L402.3,375.4Z" fill="#9cc8d0" /><path d="M439.5,331.3 L449.7,329.6 L453.1,338.1 L441.2,339.8Z" fill="#e06060" /><path d="M287.1,399.1 L293.9,397.4 L307.4,399.1 L315.9,402.5 L307.4,405.0 L293.9,405.8 L287.1,403.3Z" fill="#fff" stroke="#000" stroke-width="1.2" stroke-linejoin="round" /><path d="M329.4,395.7 L343.0,392.3 L358.2,388.9 L363.3,393.1 L351.5,397.4 L337.9,400.8 L331.1,399.1Z" fill="#fff" stroke="#000" stroke-width="1.2" stroke-linejoin="round" /><path d="M293.9,366.9 L307.4,366.9 L321.0,368.6 L331.1,371.1 L324.4,375.4 L307.4,374.5 L297.2,372.0Z" fill="#fff" stroke="#000" stroke-width="1.2" stroke-linejoin="round" /><path d="M256.6,372.0 L266.8,373.7 L276.9,378.7 L271.8,381.3 L261.7,378.7Z" fill="#fff" stroke="#000" stroke-width="1.2" stroke-linejoin="round" /><path d="M263.4,390.6 L270.1,392.3 L273.5,396.5 L266.8,397.4Z" fill="#fff" stroke="#000" stroke-width="1.2" stroke-linejoin="round" /><path d="M414.1,385.5 L424.3,380.4 L436.2,373.7 L439.5,378.7 L431.1,385.5 L417.5,390.6Z" fill="#fff" stroke="#000" stroke-width="1.2" stroke-linejoin="round" /><path d="M451.4,299.1 L459.9,300.8 L463.3,309.3 L456.5,311.0 L451.4,305.9Z" fill="#fff" stroke="#000" stroke-width="1.2" stroke-linejoin="round" /><path d="M453.1,321.1 L459.9,322.8 L461.6,329.6 L454.8,329.6Z" fill="#fff" stroke="#000" stroke-width="1.2" stroke-linejoin="round" /><path d="M434.5,282.2 L439.5,279.6 L441.2,287.3 L435.3,290.7Z" fill="#fff" stroke="#000" stroke-width="1.2" stroke-linejoin="round" /><path d="M280.3,356.7 L293.9,351.6 L309.1,348.2 L300.6,355.0 L287.1,360.1Z" fill="#fff" stroke="#000" stroke-width="1.2" stroke-linejoin="round" /><ellipse cx="298.9" cy="361.8" rx="4.7" ry="7.6" fill="none" stroke="#000" stroke-width="1.4" transform="rotate(30 298.9 361.8)"/><path d="M241.3,373.7 L248.1,382.1 L254.9,397.4 L266.8,407.5 L275.2,417.7 L300.6,426.2 L317.6,429.6 L331.1,436.3" fill="none" stroke="#000" stroke-width="1.1"/><path d="M448.0,269.5 L446.3,280.5 L447.2,292.3 L456.5,297.4 L470.0,299.1 L481.9,309.3 L485.3,324.5 L485.3,358.4" fill="none" stroke="#000" stroke-width="1.1"/><ellipse cx="160.7" cy="409.1" rx="2.4" ry="1.8" fill="#7ad884" stroke="#000" stroke-width="0.9"/><ellipse cx="164.7" cy="414.1" rx="1.9" ry="1.3" fill="#7ad884" stroke="#000" stroke-width="0.9"/><ellipse cx="164.8" cy="414.9" rx="2.4" ry="1.8" fill="#7ad884" stroke="#000" stroke-width="0.9"/><ellipse cx="167.5" cy="417.9" rx="2.0" ry="1.4" fill="#7ad884" stroke="#000" stroke-width="0.9"/><ellipse cx="170.3" cy="421.0" rx="2.5" ry="1.9" fill="#7ad884" stroke="#000" stroke-width="0.9"/><ellipse cx="171.4" cy="422.2" rx="2.5" ry="1.9" fill="#7ad884" stroke="#000" stroke-width="0.9"/><ellipse cx="176.4" cy="429.0" rx="2.0" ry="1.4" fill="#7ad884" stroke="#000" stroke-width="0.9"/><ellipse cx="178.9" cy="431.6" rx="1.8" ry="1.2" fill="#7ad884" stroke="#000" stroke-width="0.9"/><ellipse cx="180.2" cy="434.1" rx="2.3" ry="1.7" fill="#7ad884" stroke="#000" stroke-width="0.9"/><ellipse cx="181.5" cy="434.8" rx="1.9" ry="1.3" fill="#7ad884" stroke="#000" stroke-width="0.9"/><ellipse cx="182.4" cy="436.7" rx="2.2" ry="1.6" fill="#7ad884" stroke="#000" stroke-width="0.9"/><ellipse cx="184.8" cy="442.5" rx="1.6" ry="1.0" fill="#7ad884" stroke="#000" stroke-width="0.9"/><ellipse cx="189.5" cy="444.9" rx="2.5" ry="1.9" fill="#7ad884" stroke="#000" stroke-width="0.9"/><ellipse cx="191.6" cy="448.6" rx="2.2" ry="1.6" fill="#7ad884" stroke="#000" stroke-width="0.9"/><ellipse cx="201.1" cy="431.0" rx="1.8" ry="1.2" fill="#7ad884" stroke="#000" stroke-width="0.9"/><ellipse cx="205.0" cy="433.0" rx="2.1" ry="1.5" fill="#7ad884" stroke="#000" stroke-width="0.9"/><ellipse cx="208.3" cy="436.5" rx="2.2" ry="1.6" fill="#7ad884" stroke="#000" stroke-width="0.9"/><ellipse cx="210.9" cy="436.2" rx="2.5" ry="1.9" fill="#7ad884" stroke="#000" stroke-width="0.9"/><ellipse cx="214.3" cy="440.7" rx="2.0" ry="1.4" fill="#7ad884" stroke="#000" stroke-width="0.9"/><ellipse cx="216.0" cy="442.1" rx="2.4" ry="1.8" fill="#7ad884" stroke="#000" stroke-width="0.9"/><ellipse cx="218.8" cy="445.5" rx="2.5" ry="1.9" fill="#7ad884" stroke="#000" stroke-width="0.9"/><ellipse cx="224.1" cy="448.0" rx="1.6" ry="1.0" fill="#7ad884" stroke="#000" stroke-width="0.9"/><ellipse cx="226.3" cy="450.5" rx="1.6" ry="1.0" fill="#7ad884" stroke="#000" stroke-width="0.9"/><ellipse cx="227.7" cy="450.5" rx="2.1" ry="1.5" fill="#7ad884" stroke="#000" stroke-width="0.9"/><ellipse cx="231.2" cy="453.7" rx="2.4" ry="1.8" fill="#7ad884" stroke="#000" stroke-width="0.9"/><ellipse cx="232.3" cy="454.5" rx="1.7" ry="1.1" fill="#7ad884" stroke="#000" stroke-width="0.9"/><ellipse cx="235.7" cy="456.9" rx="2.6" ry="2.0" fill="#7ad884" stroke="#000" stroke-width="0.9"/><ellipse cx="241.4" cy="459.3" rx="2.1" ry="1.5" fill="#7ad884" stroke="#000" stroke-width="0.9"/></g><line x1="89.80" y1="41" x2="89.80" y2="550" stroke="#000" stroke-width="1.1" stroke-dasharray="3 5.28"/><line x1="168.56" y1="41" x2="168.56" y2="550" stroke="#000" stroke-width="1.1" stroke-dasharray="3 5.28"/><line x1="247.32" y1="41" x2="247.32" y2="550" stroke="#000" stroke-width="1.1" stroke-dasharray="3 5.28"/><line x1="326.08" y1="41" x2="326.08" y2="550" stroke="#000" stroke-width="1.1" stroke-dasharray="3 5.28"/><line x1="404.84" y1="41" x2="404.84" y2="550" stroke="#000" stroke-width="1.1" stroke-dasharray="3 5.28"/><line x1="483.60" y1="41" x2="483.60" y2="550" stroke="#000" stroke-width="1.1" stroke-dasharray="3 5.28"/><line x1="13" y1="90.60" x2="486" y2="90.60" stroke="#000" stroke-width="1.1" stroke-dasharray="3.2 4.9"/><line x1="13" y1="175.16" x2="486" y2="175.16" stroke="#000" stroke-width="1.1" stroke-dasharray="3.2 4.9"/><line x1="13" y1="259.72" x2="486" y2="259.72" stroke="#000" stroke-width="1.1" stroke-dasharray="3.2 4.9"/><line x1="13" y1="344.28" x2="486" y2="344.28" stroke="#000" stroke-width="1.1" stroke-dasharray="3.2 4.9"/><line x1="13" y1="428.84" x2="486" y2="428.84" stroke="#000" stroke-width="1.1" stroke-dasharray="3.2 4.9"/><line x1="13" y1="513.40" x2="486" y2="513.40" stroke="#000" stroke-width="1.1" stroke-dasharray="3.2 4.9"/><path d="M12.9,474.6 Q249.2,380.7 485.6,249.9" fill="none" stroke="#000" stroke-width="1.1" stroke-dasharray="11.5 11.5"/><path d="M86.4,548.3 Q286.0,465.0 485.6,357.5" fill="none" stroke="#000" stroke-width="1.1" stroke-dasharray="11.5 11.5"/><text x="257.6" y="91.40" font-size="12.5">-18</text><text x="257.6" y="175.96" font-size="12.5">-20</text><text x="257.6" y="260.52" font-size="12.5">-22</text><text x="257.6" y="345.08" font-size="12.5">-24</text><text x="257.6" y="429.64" font-size="12.5">-26</text><text x="257.6" y="514.20" font-size="12.5">-28</text><text x="89.80" y="281" font-size="12.5" text-anchor="middle">56</text><text x="168.56" y="281" font-size="12.5" text-anchor="middle">58</text><text x="247.32" y="281" font-size="12.5" text-anchor="middle">60</text><text x="326.08" y="281" font-size="12.5" text-anchor="middle">62</text><text x="404.84" y="281" font-size="12.5" text-anchor="middle">64</text><text x="483.60" y="281" font-size="12.5" text-anchor="middle">66</text><rect x="242.9" y="291.9" width="13" height="5.2" fill="#000"/><rect x="246.8" y="288.0" width="5.2" height="13" fill="#000"/><rect x="494.9" y="531.08" width="9.0" height="8.76" fill="#7ddc85"/><rect x="494.9" y="522.61" width="9.0" height="8.76" fill="#78d47f"/><rect x="494.9" y="514.15" width="9.0" height="8.76" fill="#72cd79"/><rect x="494.9" y="505.69" width="9.0" height="8.76" fill="#6dc573"/><rect x="494.9" y="497.23" width="9.0" height="8.76" fill="#68bd6d"/><rect x="494.9" y="488.76" width="9.0" height="8.76" fill="#62b667"/><rect x="494.9" y="480.30" width="9.0" height="8.76" fill="#5dae61"/><rect x="494.9" y="471.84" width="9.0" height="8.76" fill="#cad2ff"/><rect x="494.9" y="463.38" width="9.0" height="8.76" fill="#bec5ff"/><rect x="494.9" y="454.91" width="9.0" height="8.76" fill="#b1b8ff"/><rect x="494.9" y="446.45" width="9.0" height="8.76" fill="#a5abff"/><rect x="494.9" y="437.99" width="9.0" height="8.76" fill="#999eff"/><rect x="494.9" y="429.52" width="9.0" height="8.76" fill="#8c91ff"/><rect x="494.9" y="421.06" width="9.0" height="8.76" fill="#8084ff"/><rect x="494.9" y="412.60" width="9.0" height="8.76" fill="#7477ff"/><rect x="494.9" y="404.14" width="9.0" height="8.76" fill="#676aff"/><rect x="494.9" y="395.67" width="9.0" height="8.76" fill="#5b5dff"/><rect x="494.9" y="387.21" width="9.0" height="8.76" fill="#4f50ff"/><rect x="494.9" y="378.75" width="9.0" height="8.76" fill="#4243ff"/><rect x="494.9" y="370.29" width="9.0" height="8.76" fill="#3636ff"/><rect x="494.9" y="361.82" width="9.0" height="8.76" fill="#0000fa"/><rect x="494.9" y="353.36" width="9.0" height="8.76" fill="#0000f2"/><rect x="494.9" y="344.90" width="9.0" height="8.76" fill="#0000e8"/><rect x="494.9" y="336.44" width="9.0" height="8.76" fill="#0000e0"/><rect x="494.9" y="327.98" width="9.0" height="8.76" fill="#0000d6"/><rect x="494.9" y="319.51" width="9.0" height="8.76" fill="#0000ce"/><rect x="494.9" y="311.05" width="9.0" height="8.76" fill="#0000c4"/><rect x="494.9" y="302.59" width="9.0" height="8.76" fill="#fffb00"/><rect x="494.9" y="294.12" width="9.0" height="8.76" fill="#fff400"/><rect x="494.9" y="285.66" width="9.0" height="8.76" fill="#ffed00"/><rect x="494.9" y="277.20" width="9.0" height="8.76" fill="#ffe600"/><rect x="494.9" y="268.74" width="9.0" height="8.76" fill="#ffde00"/><rect x="494.9" y="260.27" width="9.0" height="8.76" fill="#ffd700"/><rect x="494.9" y="251.81" width="9.0" height="8.76" fill="#ffd000"/><rect x="494.9" y="243.35" width="9.0" height="8.76" fill="#ff8a00"/><rect x="494.9" y="234.89" width="9.0" height="8.76" fill="#ff8500"/><rect x="494.9" y="226.43" width="9.0" height="8.76" fill="#ff8000"/><rect x="494.9" y="217.96" width="9.0" height="8.76" fill="#ff7c00"/><rect x="494.9" y="209.50" width="9.0" height="8.76" fill="#ff7700"/><rect x="494.9" y="201.04" width="9.0" height="8.76" fill="#ff7200"/><rect x="494.9" y="192.57" width="9.0" height="8.76" fill="#ff3d00"/><rect x="494.9" y="184.11" width="9.0" height="8.76" fill="#ff3700"/><rect x="494.9" y="175.65" width="9.0" height="8.76" fill="#ff3000"/><rect x="494.9" y="167.19" width="9.0" height="8.76" fill="#ff2a00"/><rect x="494.9" y="158.72" width="9.0" height="8.76" fill="#ff2400"/><rect x="494.9" y="150.26" width="9.0" height="8.76" fill="#ff1d00"/><rect x="494.9" y="141.80" width="9.0" height="8.76" fill="#ff1700"/><rect x="494.9" y="133.34" width="9.0" height="8.76" fill="#c40101"/><rect x="494.9" y="124.88" width="9.0" height="8.76" fill="#bc0303"/><rect x="494.9" y="116.41" width="9.0" height="8.76" fill="#b40404"/><rect x="494.9" y="107.95" width="9.0" height="8.76" fill="#ac0606"/><rect x="494.9" y="99.49" width="9.0" height="8.76" fill="#a40808"/><rect x="494.9" y="91.02" width="9.0" height="8.76" fill="#9c0909"/><rect x="494.9" y="82.56" width="9.0" height="8.76" fill="#940b0b"/><rect x="494.9" y="74.10" width="9.0" height="8.76" fill="#5f1111"/><rect x="494.9" y="65.64" width="9.0" height="8.76" fill="#5e1414"/><rect x="494.9" y="57.17" width="9.0" height="8.76" fill="#5d1616"/><rect x="494.9" y="48.71" width="9.0" height="8.76" fill="#5c1818"/><rect x="494.9" y="40.25" width="9.0" height="8.76" fill="#5b1b1b"/><line x1="503.9" y1="548.00" x2="506.09999999999997" y2="548.00" stroke="#000" stroke-width="0.9"/><text x="524.5" y="557.00" font-size="20" text-anchor="middle">0</text><line x1="503.9" y1="497.23" x2="506.09999999999997" y2="497.23" stroke="#000" stroke-width="0.9"/><text x="524.5" y="506.23" font-size="20" text-anchor="middle">6</text><line x1="503.9" y1="446.45" x2="506.09999999999997" y2="446.45" stroke="#000" stroke-width="0.9"/><text x="524.5" y="455.45" font-size="20" text-anchor="middle">12</text><line x1="503.9" y1="395.67" x2="506.09999999999997" y2="395.67" stroke="#000" stroke-width="0.9"/><text x="524.5" y="404.67" font-size="20" text-anchor="middle">18</text><line x1="503.9" y1="344.90" x2="506.09999999999997" y2="344.90" stroke="#000" stroke-width="0.9"/><text x="524.5" y="353.90" font-size="20" text-anchor="middle">24</text><line x1="503.9" y1="294.12" x2="506.09999999999997" y2="294.12" stroke="#000" stroke-width="0.9"/><text x="524.5" y="303.12" font-size="20" text-anchor="middle">30</text><line x1="503.9" y1="243.35" x2="506.09999999999997" y2="243.35" stroke="#000" stroke-width="0.9"/><text x="524.5" y="252.35" font-size="20" text-anchor="middle">36</text><line x1="503.9" y1="192.57" x2="506.09999999999997" y2="192.57" stroke="#000" stroke-width="0.9"/><text x="524.5" y="201.57" font-size="20" text-anchor="middle">42</text><line x1="503.9" y1="141.80" x2="506.09999999999997" y2="141.80" stroke="#000" stroke-width="0.9"/><text x="524.5" y="150.80" font-size="20" text-anchor="middle">48</text><line x1="503.9" y1="91.02" x2="506.09999999999997" y2="91.02" stroke="#000" stroke-width="0.9"/><text x="524.5" y="100.02" font-size="20" text-anchor="middle">54</text><text x="38" y="66" font-size="25">2A25 near surface rainrate (mm/hr)</text><text x="440" y="523" font-size="29">(c)</text></g><g transform="translate(0.0,590.5)"><clipPath id="clipd"><path d="M13.3,344.2 L90.8,307.8 L169.2,271.4 L247.6,236.7 L326.0,198.7 L404.7,154.4 L485.4,113.3 L485.4,497.5 L387.4,548.1 L13.3,548.1Z"/></clipPath><g clip-path="url(#clipd)"><g><path d="M13.3,344.2 L90.8,307.8 L169.2,271.4 L247.6,236.7 L326.0,198.7 L404.7,154.4 L485.4,113.3 L485.4,497.5 L387.4,548.1 L13.3,548.1Z" fill="#e4e4e4" /><filter id="blurd" x="-50%" y="-50%" width="200%" height="200%"><feGaussianBlur stdDeviation="10"/></filter><g filter="url(#blurd)"><path d="M221.3,315.7 L259.3,252.5 L300.4,214.5 L363.6,182.9 L411.1,195.5 L458.5,227.2 L485.4,239.8 L485.4,492.8 L411.1,521.2 L316.2,505.4 L268.8,458.0 L237.2,394.8Z" fill="#cccccc" /><path d="M218.2,341.0 L240.3,334.7 L259.3,372.6 L284.6,407.4 L316.2,429.5 L363.6,442.2 L411.1,439.0 L485.4,410.6 L485.4,454.8 L426.9,467.5 L363.6,464.3 L300.4,448.5 L259.3,423.2 L227.7,385.3Z" fill="#bcbcbc" /><path d="M347.8,205.0 L379.4,195.5 L411.1,220.8 L436.4,252.5 L411.1,258.8 L379.4,239.8Z" fill="#bdbdbd" /><path d="M411.1,126.0 L485.4,113.3 L485.4,220.8 L442.7,205.0 L411.1,173.4Z" fill="#dedede" /><path d="M13.3,473.8 L126.5,458.0 L221.3,473.8 L268.8,521.2 L284.6,548.1 L13.3,548.1Z" fill="#dcdcdc" /></g><path d="M279.1,238.5 L295.2,236.3 L304.0,241.4 L312.8,250.2 L320.2,259.0 L324.6,269.3 L323.1,281.1 L318.7,286.9 L312.8,292.8 L309.9,298.7 L318.7,298.7 L321.6,304.5 L318.7,313.3 L314.3,317.7 L304.0,323.6 L295.2,320.7 L290.8,319.2 L295.2,314.8 L293.8,310.4 L283.5,308.9 L276.1,307.5 L277.6,301.6 L279.1,295.7 L282.0,289.9 L280.5,284.0 L274.7,276.6 L272.5,272.2 L279.1,270.8 L283.5,269.3 L282.0,263.4 L279.1,260.5 L282.0,257.6 L287.9,256.1 L286.4,251.7 L282.0,245.8 L279.1,242.9Z" fill="#7ee08a" stroke="#000" stroke-width="1.3" stroke-linejoin="round" /><path d="M287.9,247.3 L304.0,248.8 L315.8,257.6 L320.2,269.3 L317.2,281.1 L308.4,286.9 L296.7,297.2 L283.5,301.6 L279.1,295.7 L282.0,284.0 L280.5,275.2 L286.4,269.3 L286.4,260.5 L287.9,254.6Z" fill="#a6c8ff" /><path d="M286.4,275.2 L298.2,272.2 L302.6,281.1 L293.8,286.9 L285.0,284.0Z" fill="#3060f0" /><path d="M311.4,340.5 L320.2,328.0 L329.0,325.1 L339.3,323.6 L349.5,320.7 L362.7,319.2 L367.1,322.1 L368.6,326.6 L377.4,326.6 L381.8,322.1 L383.3,316.3 L378.9,310.4 L384.8,307.5 L392.1,310.4 L398.0,307.5 L402.4,295.7 L400.9,291.3 L395.0,295.7 L389.2,297.2 L377.4,298.7 L367.1,295.7 L374.5,294.3 L376.0,286.9 L384.8,279.6 L392.1,281.1 L398.0,286.9 L402.4,288.4 L406.8,286.9 L412.6,285.5 L421.5,285.5 L427.3,288.4 L427.3,294.3 L421.5,295.7 L415.6,292.8 L409.7,298.7 L408.2,306.0 L403.8,313.3 L399.4,320.7 L395.0,328.0 L392.1,335.4 L384.8,335.4 L377.4,332.4 L362.7,333.9 L351.0,338.3 L342.2,353.0 L330.5,358.8 L318.7,355.9 L315.8,350.0 L311.4,345.6Z" fill="#7ee08a" stroke="#000" stroke-width="1.3" stroke-linejoin="round" /><path d="M321.6,329.5 L333.4,326.6 L348.1,326.6 L359.8,325.1 L362.7,331.0 L351.0,336.8 L342.2,342.7 L330.5,345.6 L321.6,338.3Z" fill="#b0ccff" /><path d="M376.0,284.0 L386.2,281.1 L392.1,286.9 L389.2,294.3 L377.4,295.7Z" fill="#9cc0ff" /><path d="M368.6,360.3 L377.4,355.9 L389.2,351.5 L398.0,342.7 L406.8,339.8 L409.7,345.6 L400.9,354.4 L392.1,360.3 L380.4,364.7 L370.1,363.2Z" fill="#7ee08a" stroke="#000" stroke-width="1.3" stroke-linejoin="round" /><path d="M299.6,414.6 L311.4,410.2 L326.0,405.8 L342.2,402.9 L355.4,399.9 L365.7,394.1 L377.4,383.8 L392.1,372.1 L405.3,360.3 L417.1,348.6 L425.9,336.8 L433.2,325.1 L439.1,313.3 L444.9,317.7 L450.8,329.5 L458.1,322.1 L467.0,314.8 L469.9,311.9 L471.4,319.2 L474.3,331.0 L475.8,342.7 L468.4,341.2 L465.5,354.4 L468.4,364.7 L458.1,370.6 L450.8,370.6 L436.1,372.1 L421.5,377.9 L406.8,383.8 L396.5,389.7 L384.8,399.9 L371.6,407.3 L362.7,411.7 L353.9,416.1 L380.4,417.6 L381.8,420.5 L362.7,424.9 L348.1,430.8 L318.7,433.7 L304.0,422.0Z" fill="#7ee08a" stroke="#000" stroke-width="1.3" stroke-linejoin="round" /><path d="M406.8,370.6 L421.5,360.3 L436.1,353.0 L450.8,347.1 L459.6,344.2 L462.6,360.3 L450.8,366.2 L436.1,367.6 L421.5,370.6 L411.2,373.5Z" fill="#b4d0ff" /><path d="M337.8,300.1 L348.1,294.3 L353.9,288.4 L356.9,291.3 L355.4,298.7 L348.1,303.1 L339.3,301.6Z" fill="#7ee08a" stroke="#000" stroke-width="1.3" stroke-linejoin="round" /><path d="M405.3,331.0 L412.6,316.3 L418.5,313.3 L415.6,323.6 L408.2,332.4Z" fill="#7ee08a" stroke="#000" stroke-width="1.3" stroke-linejoin="round" /><path d="M427.3,307.5 L433.2,298.7 L431.7,306.0Z" fill="#7ee08a" stroke="#000" stroke-width="1.3" stroke-linejoin="round" /><path d="M450.8,298.7 L456.7,297.2 L464.0,297.2 L455.2,303.1Z" fill="#7ee08a" stroke="#000" stroke-width="1.3" stroke-linejoin="round" /><path d="M368.6,342.7 L374.5,339.8 L377.4,338.3 L376.0,341.2 L370.1,344.2Z" fill="#7ee08a" stroke="#000" stroke-width="1.3" stroke-linejoin="round" /><path d="M392.1,345.6 L399.4,341.2 L406.8,340.5 L402.4,345.6Z" fill="#7ee08a" stroke="#000" stroke-width="1.3" stroke-linejoin="round" /><ellipse cx="348.1" cy="195.9" rx="5.9" ry="3.7" fill="#4a78f0" stroke="#000" stroke-width="1.2" transform="rotate(20 348.1 195.9)"/><ellipse cx="359.8" cy="210.6" rx="5.1" ry="6.6" fill="#4a78f0" stroke="#000" stroke-width="1.2" transform="rotate(0 359.8 210.6)"/><ellipse cx="372.3" cy="238.2" rx="5.6" ry="2.9" fill="#4a78f0" stroke="#000" stroke-width="1.2" transform="rotate(-20 372.3 238.2)"/><ellipse cx="375.2" cy="247.3" rx="4.4" ry="1.8" fill="#4a78f0" stroke="#000" stroke-width="1.2" transform="rotate(-10 375.2 247.3)"/><ellipse cx="377.4" cy="262.0" rx="5.9" ry="5.1" fill="#4a78f0" stroke="#000" stroke-width="1.2" transform="rotate(0 377.4 262.0)"/><text x="355" y="353" font-size="19" text-anchor="middle" transform="rotate(-77 355 346.5)">250</text><text x="330" y="433" font-size="19" text-anchor="middle" transform="rotate(10 330 426.5)">250</text></g></g><line x1="89.80" y1="41" x2="89.80" y2="550" stroke="#000" stroke-width="1.1" stroke-dasharray="3 5.28"/><line x1="168.56" y1="41" x2="168.56" y2="550" stroke="#000" stroke-width="1.1" stroke-dasharray="3 5.28"/><line x1="247.32" y1="41" x2="247.32" y2="550" stroke="#000" stroke-width="1.1" stroke-dasharray="3 5.28"/><line x1="326.08" y1="41" x2="326.08" y2="550" stroke="#000" stroke-width="1.1" stroke-dasharray="3 5.28"/><line x1="404.84" y1="41" x2="404.84" y2="550" stroke="#000" stroke-width="1.1" stroke-dasharray="3 5.28"/><line x1="483.60" y1="41" x2="483.60" y2="550" stroke="#000" stroke-width="1.1" stroke-dasharray="3 5.28"/><line x1="13" y1="90.60" x2="486" y2="90.60" stroke="#000" stroke-width="1.1" stroke-dasharray="3.2 4.9"/><line x1="13" y1="175.16" x2="486" y2="175.16" stroke="#000" stroke-width="1.1" stroke-dasharray="3.2 4.9"/><line x1="13" y1="259.72" x2="486" y2="259.72" stroke="#000" stroke-width="1.1" stroke-dasharray="3.2 4.9"/><line x1="13" y1="344.28" x2="486" y2="344.28" stroke="#000" stroke-width="1.1" stroke-dasharray="3.2 4.9"/><line x1="13" y1="428.84" x2="486" y2="428.84" stroke="#000" stroke-width="1.1" stroke-dasharray="3.2 4.9"/><line x1="13" y1="513.40" x2="486" y2="513.40" stroke="#000" stroke-width="1.1" stroke-dasharray="3.2 4.9"/><path d="M12.9,474.6 Q249.2,380.7 485.6,249.9" fill="none" stroke="#000" stroke-width="1.1" stroke-dasharray="11.5 11.5"/><path d="M86.4,548.3 Q286.0,465.0 485.6,357.5" fill="none" stroke="#000" stroke-width="1.1" stroke-dasharray="11.5 11.5"/><text x="257.6" y="91.40" font-size="12.5">-18</text><text x="257.6" y="175.96" font-size="12.5">-20</text><text x="257.6" y="260.52" font-size="12.5">-22</text><text x="257.6" y="345.08" font-size="12.5">-24</text><text x="257.6" y="429.64" font-size="12.5">-26</text><text x="257.6" y="514.20" font-size="12.5">-28</text><text x="89.80" y="281" font-size="12.5" text-anchor="middle">56</text><text x="168.56" y="281" font-size="12.5" text-anchor="middle">58</text><text x="247.32" y="281" font-size="12.5" text-anchor="middle">60</text><text x="326.08" y="281" font-size="12.5" text-anchor="middle">62</text><text x="404.84" y="281" font-size="12.5" text-anchor="middle">64</text><text x="483.60" y="281" font-size="12.5" text-anchor="middle">66</text><rect x="242.9" y="291.9" width="13" height="5.2" fill="#000"/><rect x="246.8" y="288.0" width="5.2" height="13" fill="#000"/><rect x="494.9" y="531.08" width="9.0" height="8.76" fill="#f4f4f4"/><rect x="494.9" y="522.61" width="9.0" height="8.76" fill="#ededed"/><rect x="494.9" y="514.15" width="9.0" height="8.76" fill="#e5e5e5"/><rect x="494.9" y="505.69" width="9.0" height="8.76" fill="#dedede"/><rect x="494.9" y="497.23" width="9.0" height="8.76" fill="#d6d6d6"/><rect x="494.9" y="488.76" width="9.0" height="8.76" fill="#cecece"/><rect x="494.9" y="480.30" width="9.0" height="8.76" fill="#c7c7c7"/><rect x="494.9" y="471.84" width="9.0" height="8.76" fill="#bfbfbf"/><rect x="494.9" y="463.38" width="9.0" height="8.76" fill="#b8b8b8"/><rect x="494.9" y="454.91" width="9.0" height="8.76" fill="#b0b0b0"/><rect x="494.9" y="446.45" width="9.0" height="8.76" fill="#a8a8a8"/><rect x="494.9" y="437.99" width="9.0" height="8.76" fill="#a1a1a1"/><rect x="494.9" y="429.52" width="9.0" height="8.76" fill="#999999"/><rect x="494.9" y="421.06" width="9.0" height="8.76" fill="#929292"/><rect x="494.9" y="412.60" width="9.0" height="8.76" fill="#7cdb84"/><rect x="494.9" y="404.14" width="9.0" height="8.76" fill="#75d07b"/><rect x="494.9" y="395.67" width="9.0" height="8.76" fill="#6dc573"/><rect x="494.9" y="387.21" width="9.0" height="8.76" fill="#65ba6b"/><rect x="494.9" y="378.75" width="9.0" height="8.76" fill="#5eaf62"/><rect x="494.9" y="370.29" width="9.0" height="8.76" fill="#d0d8ff"/><rect x="494.9" y="361.82" width="9.0" height="8.76" fill="#b8d0ff"/><rect x="494.9" y="353.36" width="9.0" height="8.76" fill="#a0c8ff"/><rect x="494.9" y="344.90" width="9.0" height="8.76" fill="#80c0ff"/><rect x="494.9" y="336.44" width="9.0" height="8.76" fill="#60b0ff"/><rect x="494.9" y="327.98" width="9.0" height="8.76" fill="#50aaff"/><rect x="494.9" y="319.51" width="9.0" height="8.76" fill="#4888f0"/><rect x="494.9" y="311.05" width="9.0" height="8.76" fill="#4068f8"/><rect x="494.9" y="302.59" width="9.0" height="8.76" fill="#3a48ff"/><rect x="494.9" y="294.12" width="9.0" height="8.76" fill="#2828ff"/><rect x="494.9" y="285.66" width="9.0" height="8.76" fill="#0000fb"/><rect x="494.9" y="277.20" width="9.0" height="8.76" fill="#0000f4"/><rect x="494.9" y="268.74" width="9.0" height="8.76" fill="#0000d9"/><rect x="494.9" y="260.27" width="9.0" height="8.76" fill="#0000ca"/><rect x="494.9" y="251.81" width="9.0" height="8.76" fill="#0000bb"/><rect x="494.9" y="243.35" width="9.0" height="8.76" fill="#fffa00"/><rect x="494.9" y="234.89" width="9.0" height="8.76" fill="#fff000"/><rect x="494.9" y="226.43" width="9.0" height="8.76" fill="#ffe600"/><rect x="494.9" y="217.96" width="9.0" height="8.76" fill="#ffdb00"/><rect x="494.9" y="209.50" width="9.0" height="8.76" fill="#ffd100"/><rect x="494.9" y="201.04" width="9.0" height="8.76" fill="#ff8900"/><rect x="494.9" y="192.57" width="9.0" height="8.76" fill="#ff8400"/><rect x="494.9" y="184.11" width="9.0" height="8.76" fill="#ff7e00"/><rect x="494.9" y="175.65" width="9.0" height="8.76" fill="#ff7800"/><rect x="494.9" y="167.19" width="9.0" height="8.76" fill="#ff7300"/><rect x="494.9" y="158.72" width="9.0" height="8.76" fill="#ff3c00"/><rect x="494.9" y="150.26" width="9.0" height="8.76" fill="#ff3300"/><rect x="494.9" y="141.80" width="9.0" height="8.76" fill="#ff2a00"/><rect x="494.9" y="133.34" width="9.0" height="8.76" fill="#ff2100"/><rect x="494.9" y="124.88" width="9.0" height="8.76" fill="#ff1800"/><rect x="494.9" y="116.41" width="9.0" height="8.76" fill="#c30101"/><rect x="494.9" y="107.95" width="9.0" height="8.76" fill="#ba0404"/><rect x="494.9" y="99.49" width="9.0" height="8.76" fill="#b00606"/><rect x="494.9" y="91.02" width="9.0" height="8.76" fill="#a60808"/><rect x="494.9" y="82.56" width="9.0" height="8.76" fill="#9d0b0b"/><rect x="494.9" y="74.10" width="9.0" height="8.76" fill="#5f1111"/><rect x="494.9" y="65.64" width="9.0" height="8.76" fill="#5e1414"/><rect x="494.9" y="57.17" width="9.0" height="8.76" fill="#5d1616"/><rect x="494.9" y="48.71" width="9.0" height="8.76" fill="#5c1818"/><rect x="494.9" y="40.25" width="9.0" height="8.76" fill="#5b1b1b"/><line x1="503.9" y1="548.00" x2="506.09999999999997" y2="548.00" stroke="#000" stroke-width="0.9"/><text x="524.5" y="557.00" font-size="20" text-anchor="middle">300</text><line x1="503.9" y1="497.23" x2="506.09999999999997" y2="497.23" stroke="#000" stroke-width="0.9"/><text x="524.5" y="506.23" font-size="20" text-anchor="middle">279</text><line x1="503.9" y1="446.45" x2="506.09999999999997" y2="446.45" stroke="#000" stroke-width="0.9"/><text x="524.5" y="455.45" font-size="20" text-anchor="middle">258</text><line x1="503.9" y1="395.67" x2="506.09999999999997" y2="395.67" stroke="#000" stroke-width="0.9"/><text x="524.5" y="404.67" font-size="20" text-anchor="middle">237</text><line x1="503.9" y1="344.90" x2="506.09999999999997" y2="344.90" stroke="#000" stroke-width="0.9"/><text x="524.5" y="353.90" font-size="20" text-anchor="middle">216</text><line x1="503.9" y1="294.12" x2="506.09999999999997" y2="294.12" stroke="#000" stroke-width="0.9"/><text x="524.5" y="303.12" font-size="20" text-anchor="middle">195</text><line x1="503.9" y1="243.35" x2="506.09999999999997" y2="243.35" stroke="#000" stroke-width="0.9"/><text x="524.5" y="252.35" font-size="20" text-anchor="middle">174</text><line x1="503.9" y1="192.57" x2="506.09999999999997" y2="192.57" stroke="#000" stroke-width="0.9"/><text x="524.5" y="201.57" font-size="20" text-anchor="middle">153</text><line x1="503.9" y1="141.80" x2="506.09999999999997" y2="141.80" stroke="#000" stroke-width="0.9"/><text x="524.5" y="150.80" font-size="20" text-anchor="middle">132</text><line x1="503.9" y1="91.02" x2="506.09999999999997" y2="91.02" stroke="#000" stroke-width="0.9"/><text x="524.5" y="100.02" font-size="20" text-anchor="middle">111</text><text x="44" y="66" font-size="25">85GHz PCT (K)</text><text x="440" y="523" font-size="29">(d)</text></g><g transform="translate(590.5,590.5)"><clipPath id="clipe"><path d="M12.8,344.2 L90.3,307.8 L168.7,271.4 L247.1,236.7 L325.5,198.7 L404.2,154.4 L484.9,113.3 L484.9,497.5 L386.9,548.1 L12.8,548.1Z"/></clipPath><g clip-path="url(#clipe)"><g><path d="M-0.5,-0.5 L505.4,-0.5 L505.4,568.7 L-0.5,568.7Z" fill="#bed0ff" /><path d="M-0.5,315.7 L90.3,307.8 L168.7,271.4 L247.1,236.7 L325.5,198.7 L347.3,189.2 L363.1,220.8 L378.9,252.5 L410.6,268.3 L505.4,284.1 L505.4,448.5 L410.6,461.2 L347.3,451.7 L284.1,439.0 L220.8,423.2 L157.6,410.6 L94.4,404.2 L-0.5,413.7Z" fill="#a4c4ff" /><path d="M94.4,284.1 L157.6,277.8 L220.8,252.5 L246.1,284.1 L227.2,331.5 L189.2,347.3 L126.0,341.0 L78.6,331.5Z" fill="#98bcff" /><path d="M334.7,176.6 L505.4,94.4 L505.4,337.8 L484.9,330.3 L461.5,300.5 L437.8,282.8 L420.1,265.1 L404.6,241.4 L378.9,227.2 L356.8,217.7 L341.0,205.0Z" fill="#6cc474" /><path d="M448.5,235.1 L464.3,231.9 L477.0,239.8 L461.2,249.3 L445.3,246.1Z" fill="#7ab8ff" /><path d="M347.3,208.2 L366.3,217.7 L385.3,233.5 L397.9,252.5 L385.3,258.8 L363.1,239.8 L347.3,227.2Z" fill="#a8c8ff" /><path d="M262.0,239.8 L303.1,233.5 L331.5,252.5 L347.3,268.3 L378.9,271.4 L410.6,274.6 L442.2,293.6 L477.0,315.7 L484.9,347.3 L484.9,410.6 L458.0,420.1 L420.1,423.2 L394.8,432.7 L363.1,439.0 L331.5,439.0 L299.9,429.5 L277.8,413.7 L252.5,391.6 L230.3,372.6 L252.5,353.7 L277.8,341.0 L268.3,325.2 L262.0,299.9 L265.1,274.6Z" fill="#4a84f4" /><path d="M276.2,239.8 L303.1,246.1 L322.0,262.0 L329.9,284.1 L326.8,309.4 L311.0,325.2 L284.1,325.2 L271.4,315.7 L273.0,299.9 L284.1,284.1 L277.8,268.3 L268.3,252.5Z" fill="#0a10dc" /><path d="M305.0,348.0 L336.9,324.2 L360.6,319.5 L372.6,307.8 L396.3,286.3 L408.0,281.6 L425.7,288.8 L437.8,300.5 L455.5,312.5 L467.5,324.2 L473.2,336.3 L473.2,354.0 L467.5,366.0 L455.5,371.7 L437.8,371.7 L420.1,377.7 L402.0,383.7 L384.3,383.7 L366.6,371.7 L336.9,366.0 L313.2,363.5Z" fill="#0c14dc" /><path d="M295.5,389.4 L325.2,401.4 L360.6,401.4 L396.3,389.4 L431.8,383.7 L455.5,389.4 L484.9,395.4 L484.9,401.4 L455.5,407.4 L408.0,407.4 L372.6,413.1 L336.9,419.1 L313.2,425.1 L295.5,419.1Z" fill="#1a26e0" /><path d="M363.1,280.3 L378.9,277.8 L390.3,287.2 L385.3,300.5 L366.3,298.3Z" fill="#1420dc" /><path d="M336.9,291.0 L347.3,288.8 L354.6,296.7 L344.2,303.1Z" fill="#2030e4" /><path d="M363.1,262.0 L378.9,258.8 L388.4,274.6 L375.8,284.1 L363.1,277.8Z" fill="#2030e8" /><path d="M341.0,192.4 L353.7,189.2 L363.1,205.0 L360.0,220.8 L350.5,217.7Z" fill="#2a40ec" /><path d="M290.4,265.1 L301.5,271.4 L298.3,284.1 L293.6,290.4 L282.5,285.7 L288.8,277.8Z" fill="#ffee00" /><path d="M320.4,329.9 L328.4,333.1 L344.2,329.9 L342.6,334.7 L331.5,337.8 L322.0,337.8Z" fill="#ffee00" /><path d="M307.8,274.6 L314.1,277.8 L311.0,282.5 L306.2,279.3Z" fill="#ffee00" /><path d="M353.7,209.8 L360.0,211.4 L358.4,217.7 L353.7,216.1Z" fill="#ffee00" /><path d="M-0.5,480.1 L46.9,505.4 L94.4,518.1 L132.3,511.8 L163.9,495.9 L195.5,483.3 L220.8,489.6 L252.5,502.3 L284.1,511.8 L315.7,514.9 L347.3,521.2 L378.9,530.7 L391.6,568.7 L-0.5,568.7Z" fill="#86cc8e" /><path d="M-0.5,511.8 L62.7,530.7 L126.0,533.9 L189.2,521.2 L252.5,530.7 L315.7,533.9 L391.6,543.4 L391.6,568.7 L-0.5,568.7Z" fill="#6cc474" /><path d="M46.9,328.4 L81.7,315.7 L94.4,322.0 L62.7,337.8Z" fill="#8cc894" /><path d="M249.3,293.6 L265.1,296.7 L271.4,312.5 L268.3,325.2 L257.2,318.9 L249.3,306.2Z" fill="#6cc474" /></g></g><line x1="89.80" y1="41" x2="89.80" y2="550" stroke="#000" stroke-width="1.1" stroke-dasharray="3 5.28"/><line x1="168.56" y1="41" x2="168.56" y2="550" stroke="#000" stroke-width="1.1" stroke-dasharray="3 5.28"/><line x1="247.32" y1="41" x2="247.32" y2="550" stroke="#000" stroke-width="1.1" stroke-dasharray="3 5.28"/><line x1="326.08" y1="41" x2="326.08" y2="550" stroke="#000" stroke-width="1.1" stroke-dasharray="3 5.28"/><line x1="404.84" y1="41" x2="404.84" y2="550" stroke="#000" stroke-width="1.1" stroke-dasharray="3 5.28"/><line x1="483.60" y1="41" x2="483.60" y2="550" stroke="#000" stroke-width="1.1" stroke-dasharray="3 5.28"/><line x1="13" y1="90.60" x2="486" y2="90.60" stroke="#000" stroke-width="1.1" stroke-dasharray="3.2 4.9"/><line x1="13" y1="175.16" x2="486" y2="175.16" stroke="#000" stroke-width="1.1" stroke-dasharray="3.2 4.9"/><line x1="13" y1="259.72" x2="486" y2="259.72" stroke="#000" stroke-width="1.1" stroke-dasharray="3.2 4.9"/><line x1="13" y1="344.28" x2="486" y2="344.28" stroke="#000" stroke-width="1.1" stroke-dasharray="3.2 4.9"/><line x1="13" y1="428.84" x2="486" y2="428.84" stroke="#000" stroke-width="1.1" stroke-dasharray="3.2 4.9"/><line x1="13" y1="513.40" x2="486" y2="513.40" stroke="#000" stroke-width="1.1" stroke-dasharray="3.2 4.9"/><path d="M12.9,474.6 Q249.2,380.7 485.6,249.9" fill="none" stroke="#000" stroke-width="1.1" stroke-dasharray="11.5 11.5"/><path d="M86.4,548.3 Q286.0,465.0 485.6,357.5" fill="none" stroke="#000" stroke-width="1.1" stroke-dasharray="11.5 11.5"/><text x="257.6" y="91.40" font-size="12.5">-18</text><text x="257.6" y="175.96" font-size="12.5">-20</text><text x="257.6" y="260.52" font-size="12.5">-22</text><text x="257.6" y="345.08" font-size="12.5">-24</text><text x="257.6" y="429.64" font-size="12.5">-26</text><text x="257.6" y="514.20" font-size="12.5">-28</text><text x="89.80" y="281" font-size="12.5" text-anchor="middle">56</text><text x="168.56" y="281" font-size="12.5" text-anchor="middle">58</text><text x="247.32" y="281" font-size="12.5" text-anchor="middle">60</text><text x="326.08" y="281" font-size="12.5" text-anchor="middle">62</text><text x="404.84" y="281" font-size="12.5" text-anchor="middle">64</text><text x="483.60" y="281" font-size="12.5" text-anchor="middle">66</text><rect x="242.9" y="291.9" width="13" height="5.2" fill="#000"/><rect x="246.8" y="288.0" width="5.2" height="13" fill="#000"/><rect x="494.9" y="531.08" width="9.0" height="8.76" fill="#f4f4f4"/><rect x="494.9" y="522.61" width="9.0" height="8.76" fill="#ededed"/><rect x="494.9" y="514.15" width="9.0" height="8.76" fill="#e5e5e5"/><rect x="494.9" y="505.69" width="9.0" height="8.76" fill="#dedede"/><rect x="494.9" y="497.23" width="9.0" height="8.76" fill="#d6d6d6"/><rect x="494.9" y="488.76" width="9.0" height="8.76" fill="#cecece"/><rect x="494.9" y="480.30" width="9.0" height="8.76" fill="#c7c7c7"/><rect x="494.9" y="471.84" width="9.0" height="8.76" fill="#bfbfbf"/><rect x="494.9" y="463.38" width="9.0" height="8.76" fill="#b8b8b8"/><rect x="494.9" y="454.91" width="9.0" height="8.76" fill="#b0b0b0"/><rect x="494.9" y="446.45" width="9.0" height="8.76" fill="#a8a8a8"/><rect x="494.9" y="437.99" width="9.0" height="8.76" fill="#a1a1a1"/><rect x="494.9" y="429.52" width="9.0" height="8.76" fill="#999999"/><rect x="494.9" y="421.06" width="9.0" height="8.76" fill="#929292"/><rect x="494.9" y="412.60" width="9.0" height="8.76" fill="#7cdb84"/><rect x="494.9" y="404.14" width="9.0" height="8.76" fill="#75d07b"/><rect x="494.9" y="395.67" width="9.0" height="8.76" fill="#6dc573"/><rect x="494.9" y="387.21" width="9.0" height="8.76" fill="#65ba6b"/><rect x="494.9" y="378.75" width="9.0" height="8.76" fill="#5eaf62"/><rect x="494.9" y="370.29" width="9.0" height="8.76" fill="#d0d8ff"/><rect x="494.9" y="361.82" width="9.0" height="8.76" fill="#b8d0ff"/><rect x="494.9" y="353.36" width="9.0" height="8.76" fill="#a0c8ff"/><rect x="494.9" y="344.90" width="9.0" height="8.76" fill="#80c0ff"/><rect x="494.9" y="336.44" width="9.0" height="8.76" fill="#60b0ff"/><rect x="494.9" y="327.98" width="9.0" height="8.76" fill="#50aaff"/><rect x="494.9" y="319.51" width="9.0" height="8.76" fill="#4888f0"/><rect x="494.9" y="311.05" width="9.0" height="8.76" fill="#4068f8"/><rect x="494.9" y="302.59" width="9.0" height="8.76" fill="#3a48ff"/><rect x="494.9" y="294.12" width="9.0" height="8.76" fill="#2828ff"/><rect x="494.9" y="285.66" width="9.0" height="8.76" fill="#0000fb"/><rect x="494.9" y="277.20" width="9.0" height="8.76" fill="#0000f4"/><rect x="494.9" y="268.74" width="9.0" height="8.76" fill="#0000d9"/><rect x="494.9" y="260.27" width="9.0" height="8.76" fill="#0000ca"/><rect x="494.9" y="251.81" width="9.0" height="8.76" fill="#0000bb"/><rect x="494.9" y="243.35" width="9.0" height="8.76" fill="#fffa00"/><rect x="494.9" y="234.89" width="9.0" height="8.76" fill="#fff000"/><rect x="494.9" y="226.43" width="9.0" height="8.76" fill="#ffe600"/><rect x="494.9" y="217.96" width="9.0" height="8.76" fill="#ffdb00"/><rect x="494.9" y="209.50" width="9.0" height="8.76" fill="#ffd100"/><rect x="494.9" y="201.04" width="9.0" height="8.76" fill="#ff8900"/><rect x="494.9" y="192.57" width="9.0" height="8.76" fill="#ff8400"/><rect x="494.9" y="184.11" width="9.0" height="8.76" fill="#ff7e00"/><rect x="494.9" y="175.65" width="9.0" height="8.76" fill="#ff7800"/><rect x="494.9" y="167.19" width="9.0" height="8.76" fill="#ff7300"/><rect x="494.9" y="158.72" width="9.0" height="8.76" fill="#ff3c00"/><rect x="494.9" y="150.26" width="9.0" height="8.76" fill="#ff3300"/><rect x="494.9" y="141.80" width="9.0" height="8.76" fill="#ff2a00"/><rect x="494.9" y="133.34" width="9.0" height="8.76" fill="#ff2100"/><rect x="494.9" y="124.88" width="9.0" height="8.76" fill="#ff1800"/><rect x="494.9" y="116.41" width="9.0" height="8.76" fill="#c30101"/><rect x="494.9" y="107.95" width="9.0" height="8.76" fill="#ba0404"/><rect x="494.9" y="99.49" width="9.0" height="8.76" fill="#b00606"/><rect x="494.9" y="91.02" width="9.0" height="8.76" fill="#a60808"/><rect x="494.9" y="82.56" width="9.0" height="8.76" fill="#9d0b0b"/><rect x="494.9" y="74.10" width="9.0" height="8.76" fill="#5f1111"/><rect x="494.9" y="65.64" width="9.0" height="8.76" fill="#5e1414"/><rect x="494.9" y="57.17" width="9.0" height="8.76" fill="#5d1616"/><rect x="494.9" y="48.71" width="9.0" height="8.76" fill="#5c1818"/><rect x="494.9" y="40.25" width="9.0" height="8.76" fill="#5b1b1b"/><line x1="503.9" y1="548.00" x2="506.09999999999997" y2="548.00" stroke="#000" stroke-width="0.9"/><text x="524.5" y="557.00" font-size="20" text-anchor="middle">315</text><line x1="503.9" y1="497.23" x2="506.09999999999997" y2="497.23" stroke="#000" stroke-width="0.9"/><text x="524.5" y="506.23" font-size="20" text-anchor="middle">306</text><line x1="503.9" y1="446.45" x2="506.09999999999997" y2="446.45" stroke="#000" stroke-width="0.9"/><text x="524.5" y="455.45" font-size="20" text-anchor="middle">297</text><line x1="503.9" y1="395.67" x2="506.09999999999997" y2="395.67" stroke="#000" stroke-width="0.9"/><text x="524.5" y="404.67" font-size="20" text-anchor="middle">288</text><line x1="503.9" y1="344.90" x2="506.09999999999997" y2="344.90" stroke="#000" stroke-width="0.9"/><text x="524.5" y="353.90" font-size="20" text-anchor="middle">279</text><line x1="503.9" y1="294.12" x2="506.09999999999997" y2="294.12" stroke="#000" stroke-width="0.9"/><text x="524.5" y="303.12" font-size="20" text-anchor="middle">270</text><line x1="503.9" y1="243.35" x2="506.09999999999997" y2="243.35" stroke="#000" stroke-width="0.9"/><text x="524.5" y="252.35" font-size="20" text-anchor="middle">261</text><line x1="503.9" y1="192.57" x2="506.09999999999997" y2="192.57" stroke="#000" stroke-width="0.9"/><text x="524.5" y="201.57" font-size="20" text-anchor="middle">252</text><line x1="503.9" y1="141.80" x2="506.09999999999997" y2="141.80" stroke="#000" stroke-width="0.9"/><text x="524.5" y="150.80" font-size="20" text-anchor="middle">243</text><line x1="503.9" y1="91.02" x2="506.09999999999997" y2="91.02" stroke="#000" stroke-width="0.9"/><text x="524.5" y="100.02" font-size="20" text-anchor="middle">234</text><text x="44" y="66" font-size="25">37GHz PCT (K)</text><text x="440" y="523" font-size="29">(e)</text></g><g transform="translate(1181.0,590.5)"><g><path d="M249.8,243.0 L268.8,227.2 L278.3,225.6 L300.4,239.8 L316.2,235.1 L325.7,239.8 L328.9,220.8 L332.0,201.9 L347.8,189.2 L370.0,201.9 L368.4,227.2 L379.4,220.8 L390.5,208.2 L392.1,217.7 L379.4,230.3 L376.3,249.3 L384.2,255.6 L395.3,243.0 L414.2,243.0 L420.6,252.5 L414.2,277.8 L430.0,268.3 L442.7,271.4 L441.1,284.1 L456.9,293.6 L468.0,309.4 L485.4,307.8 L485.4,478.6 L470.8,483.9 L449.0,481.7 L419.3,486.1 L382.9,488.0 L346.2,490.3 L305.5,490.3 L284.0,492.5 L252.0,481.7 L239.1,479.5 L211.2,473.2 L198.3,462.4 L183.4,453.9 L170.4,449.5 L161.9,432.4 L144.7,410.9 L146.7,404.6 L168.2,428.0 L174.9,426.1 L183.4,439.0 L200.5,430.2 L204.9,439.0 L194.2,447.6 L211.2,451.7 L230.5,458.0 L247.6,471.0 L269.1,473.2 L322.8,473.2 L346.2,464.6 L335.8,451.7 L339.9,440.9 L269.1,434.6 L243.5,430.2 L230.5,421.6 L211.2,408.7 L195.1,387.8 L196.4,378.3 L189.7,372.9 L174.7,377.7 L168.0,367.2 L177.5,361.2 L185.6,357.1 L182.2,348.3 L184.2,341.0 L186.9,333.4 L184.2,323.3 L186.9,315.1 L192.3,299.6 L199.1,289.5 L200.7,283.8 L205.4,275.9 L213.3,266.4 L216.5,260.1 L227.5,255.3 L237.0,249.0Z" fill="#7ddc86" stroke="#000" stroke-width="1.3" stroke-linejoin="round" /><path d="M268.8,246.1 L316.2,252.5 L379.4,268.3 L442.7,299.9 L485.4,315.7 L485.4,426.4 L411.1,410.6 L347.8,394.8 L284.6,363.1 L259.3,315.7Z" fill="#79d482" /><path d="M230.7,260.1 L221.2,263.2 L214.9,272.7 L207.0,283.8 L205.2,289.5 L205.2,303.1 L200.5,320.8 L203.2,331.5 L189.7,338.8 L188.3,345.7 L195.1,352.4 L196.4,367.2 L206.6,377.7 L215.0,383.7 L223.6,372.1 L225.6,367.4 L213.4,355.9 L220.1,342.3 L223.6,328.8 L230.3,320.0 L232.3,311.2 L239.1,305.7 L250.7,311.8 L260.7,309.1 L263.9,299.6 L259.2,288.5 L256.0,279.0 L248.1,271.1 L235.4,269.5Z" fill="#ffffff" stroke="#000" stroke-width="1.3" stroke-linejoin="round" /><path d="M225.6,343.7 L233.0,342.4 L240.5,348.4 L247.3,360.6 L250.7,367.4 L260.8,372.1 L264.2,365.3 L257.4,364.0 L247.3,364.0 L237.1,362.7 L226.9,360.6 L225.6,353.9Z" fill="#ffffff" stroke="#000" stroke-width="1.2" stroke-linejoin="round" /><path d="M226.9,377.7 L234.0,378.9 L237.8,388.4 L232.4,391.6 L227.7,386.9Z" fill="#ffffff" stroke="#000" stroke-width="1.2" stroke-linejoin="round" /><ellipse cx="218.8" cy="383.7" rx="7.0" ry="4.4" fill="none" stroke="#000" stroke-width="1.3" transform="rotate(-35 218.8 383.7)"/><ellipse cx="251.4" cy="353.7" rx="4.4" ry="7.6" fill="none" stroke="#000" stroke-width="1.3" transform="rotate(35 251.4 353.7)"/><path d="M346.2,442.2 L360.5,440.9 L387.0,445.3 L379.4,450.1 L357.3,452.3 L347.8,448.5Z" fill="#ffffff" stroke="#000" stroke-width="1.2" stroke-linejoin="round" /><path d="M393.7,450.1 L407.9,447.6 L440.8,451.7 L426.9,461.2 L407.9,462.4 L398.4,456.4Z" fill="#ffffff" stroke="#000" stroke-width="1.2" stroke-linejoin="round" /><path d="M440.8,451.7 L455.3,447.6 L462.3,448.5 L449.0,453.9Z" fill="#ffffff" stroke="#000" stroke-width="1.2" stroke-linejoin="round" /><ellipse cx="361.4" cy="451.0" rx="5.1" ry="3.5" fill="none" stroke="#000" stroke-width="1.2" transform="rotate(0 361.4 451.0)"/><ellipse cx="419.3" cy="482.7" rx="3.8" ry="7.0" fill="none" stroke="#000" stroke-width="1.2" transform="rotate(-10 419.3 482.7)"/><ellipse cx="374.1" cy="464.6" rx="3.2" ry="1.6" fill="none" stroke="#000" stroke-width="1.1" transform="rotate(-30 374.1 464.6)"/><ellipse cx="386.1" cy="478.9" rx="3.2" ry="1.6" fill="none" stroke="#000" stroke-width="1.1" transform="rotate(-30 386.1 478.9)"/><path d="M344.0,502.3 L354.2,498.5 L372.2,499.7 L370.0,505.4 L347.8,505.4Z" fill="#7ddc86" stroke="#000" stroke-width="1.2" stroke-linejoin="round" /><path d="M380.7,502.9 L398.4,499.1 L408.5,494.7 L407.9,505.4 L388.9,507.6Z" fill="#7ddc86" stroke="#000" stroke-width="1.2" stroke-linejoin="round" /><path d="M168.2,528.8 L177.1,532.3 L213.4,533.3 L213.4,539.6 L177.1,538.9 L169.2,539.6Z" fill="#7ddc86" stroke="#000" stroke-width="1.2" stroke-linejoin="round" /><ellipse cx="191.9" cy="536.4" rx="5.1" ry="2.8" fill="none" stroke="#000" stroke-width="1.2" transform="rotate(0 191.9 536.4)"/><path d="M226.4,527.6 L232.4,524.7 L237.2,530.7 L229.2,533.3Z" fill="#7ddc86" stroke="#000" stroke-width="1.1" stroke-linejoin="round" /><path d="M176.8,461.2 L183.4,464.3 L189.7,467.5 L194.2,473.8 L186.6,475.4 L178.7,467.5Z" fill="#7ddc86" stroke="#000" stroke-width="1.1" stroke-linejoin="round" /><path d="M445.8,243.0 L464.8,235.1 L474.3,238.2 L464.8,246.1 L449.0,246.1Z" fill="#7ddc86" stroke="#000" stroke-width="1.2" stroke-linejoin="round" /><path d="M436.4,148.1 L449.0,135.5 L460.1,130.7 L445.8,145.0 L439.5,151.3Z" fill="#7ddc86" stroke="#000" stroke-width="1.2" stroke-linejoin="round" /><path d="M475.9,194.0 L485.4,189.2 L485.4,197.1 L477.5,197.1Z" fill="#7ddc86" stroke="#000" stroke-width="1.2" stroke-linejoin="round" /><path d="M77.5,360.0 L85.4,352.1 L88.5,366.3 L82.2,367.9Z" fill="#7ddc86" stroke="#000" stroke-width="1.0" stroke-linejoin="round" /><path d="M139.1,331.5 L145.5,333.1 L143.9,339.4 L139.1,337.8Z" fill="#7ddc86" stroke="#000" stroke-width="1.0" stroke-linejoin="round" /><path d="M262.5,328.4 L278.3,303.1 L297.2,277.8 L313.0,268.3 L316.2,277.8 L300.4,303.1 L290.9,325.2 L271.9,334.7Z" fill="#9cc0ff" /><path d="M271.9,299.9 L284.6,293.6 L290.9,303.1 L278.3,312.5Z" fill="#2848f0" /><path d="M294.1,360.0 L313.0,341.0 L335.2,325.2 L360.5,318.9 L366.8,331.5 L347.8,341.0 L328.9,350.5 L309.9,360.0Z" fill="#a0c4ff" /><path d="M313.0,344.2 L328.9,331.5 L338.3,337.8 L319.4,350.5Z" fill="#2848f0" /><path d="M335.2,201.9 L347.8,195.5 L360.5,220.8 L370.0,249.3 L385.8,277.8 L398.4,309.4 L388.9,315.7 L373.1,293.6 L360.5,265.1 L347.8,236.7Z" fill="#7aa8ff" /><path d="M366.8,268.3 L379.4,274.6 L388.9,290.4 L376.3,293.6Z" fill="#2040e8" /><path d="M420.6,350.5 L449.0,344.2 L455.3,363.1 L430.0,366.3Z" fill="#b0d0ff" /></g><line x1="89.80" y1="41" x2="89.80" y2="550" stroke="#000" stroke-width="1.1" stroke-dasharray="3 5.28"/><line x1="168.56" y1="41" x2="168.56" y2="550" stroke="#000" stroke-width="1.1" stroke-dasharray="3 5.28"/><line x1="247.32" y1="41" x2="247.32" y2="550" stroke="#000" stroke-width="1.1" stroke-dasharray="3 5.28"/><line x1="326.08" y1="41" x2="326.08" y2="550" stroke="#000" stroke-width="1.1" stroke-dasharray="3 5.28"/><line x1="404.84" y1="41" x2="404.84" y2="550" stroke="#000" stroke-width="1.1" stroke-dasharray="3 5.28"/><line x1="483.60" y1="41" x2="483.60" y2="550" stroke="#000" stroke-width="1.1" stroke-dasharray="3 5.28"/><line x1="13" y1="90.60" x2="486" y2="90.60" stroke="#000" stroke-width="1.1" stroke-dasharray="3.2 4.9"/><line x1="13" y1="175.16" x2="486" y2="175.16" stroke="#000" stroke-width="1.1" stroke-dasharray="3.2 4.9"/><line x1="13" y1="259.72" x2="486" y2="259.72" stroke="#000" stroke-width="1.1" stroke-dasharray="3.2 4.9"/><line x1="13" y1="344.28" x2="486" y2="344.28" stroke="#000" stroke-width="1.1" stroke-dasharray="3.2 4.9"/><line x1="13" y1="428.84" x2="486" y2="428.84" stroke="#000" stroke-width="1.1" stroke-dasharray="3.2 4.9"/><line x1="13" y1="513.40" x2="486" y2="513.40" stroke="#000" stroke-width="1.1" stroke-dasharray="3.2 4.9"/><path d="M12.9,474.6 Q249.2,380.7 485.6,249.9" fill="none" stroke="#000" stroke-width="1.1" stroke-dasharray="11.5 11.5"/><path d="M86.4,548.3 Q286.0,465.0 485.6,357.5" fill="none" stroke="#000" stroke-width="1.1" stroke-dasharray="11.5 11.5"/><text x="257.6" y="91.40" font-size="12.5">-18</text><text x="257.6" y="175.96" font-size="12.5">-20</text><text x="257.6" y="260.52" font-size="12.5">-22</text><text x="257.6" y="345.08" font-size="12.5">-24</text><text x="257.6" y="429.64" font-size="12.5">-26</text><text x="257.6" y="514.20" font-size="12.5">-28</text><text x="89.80" y="281" font-size="12.5" text-anchor="middle">56</text><text x="168.56" y="281" font-size="12.5" text-anchor="middle">58</text><text x="247.32" y="281" font-size="12.5" text-anchor="middle">60</text><text x="326.08" y="281" font-size="12.5" text-anchor="middle">62</text><text x="404.84" y="281" font-size="12.5" text-anchor="middle">64</text><text x="483.60" y="281" font-size="12.5" text-anchor="middle">66</text><rect x="242.9" y="291.9" width="13" height="5.2" fill="#000"/><rect x="246.8" y="288.0" width="5.2" height="13" fill="#000"/><rect x="494.9" y="531.08" width="9.0" height="8.76" fill="#7ddc85"/><rect x="494.9" y="522.61" width="9.0" height="8.76" fill="#78d47f"/><rect x="494.9" y="514.15" width="9.0" height="8.76" fill="#72cd79"/><rect x="494.9" y="505.69" width="9.0" height="8.76" fill="#6dc573"/><rect x="494.9" y="497.23" width="9.0" height="8.76" fill="#68bd6d"/><rect x="494.9" y="488.76" width="9.0" height="8.76" fill="#62b667"/><rect x="494.9" y="480.30" width="9.0" height="8.76" fill="#5dae61"/><rect x="494.9" y="471.84" width="9.0" height="8.76" fill="#cad2ff"/><rect x="494.9" y="463.38" width="9.0" height="8.76" fill="#bec5ff"/><rect x="494.9" y="454.91" width="9.0" height="8.76" fill="#b1b8ff"/><rect x="494.9" y="446.45" width="9.0" height="8.76" fill="#a5abff"/><rect x="494.9" y="437.99" width="9.0" height="8.76" fill="#999eff"/><rect x="494.9" y="429.52" width="9.0" height="8.76" fill="#8c91ff"/><rect x="494.9" y="421.06" width="9.0" height="8.76" fill="#8084ff"/><rect x="494.9" y="412.60" width="9.0" height="8.76" fill="#7477ff"/><rect x="494.9" y="404.14" width="9.0" height="8.76" fill="#676aff"/><rect x="494.9" y="395.67" width="9.0" height="8.76" fill="#5b5dff"/><rect x="494.9" y="387.21" width="9.0" height="8.76" fill="#4f50ff"/><rect x="494.9" y="378.75" width="9.0" height="8.76" fill="#4243ff"/><rect x="494.9" y="370.29" width="9.0" height="8.76" fill="#3636ff"/><rect x="494.9" y="361.82" width="9.0" height="8.76" fill="#0000fa"/><rect x="494.9" y="353.36" width="9.0" height="8.76" fill="#0000f2"/><rect x="494.9" y="344.90" width="9.0" height="8.76" fill="#0000e8"/><rect x="494.9" y="336.44" width="9.0" height="8.76" fill="#0000e0"/><rect x="494.9" y="327.98" width="9.0" height="8.76" fill="#0000d6"/><rect x="494.9" y="319.51" width="9.0" height="8.76" fill="#0000ce"/><rect x="494.9" y="311.05" width="9.0" height="8.76" fill="#0000c4"/><rect x="494.9" y="302.59" width="9.0" height="8.76" fill="#fffb00"/><rect x="494.9" y="294.12" width="9.0" height="8.76" fill="#fff400"/><rect x="494.9" y="285.66" width="9.0" height="8.76" fill="#ffed00"/><rect x="494.9" y="277.20" width="9.0" height="8.76" fill="#ffe600"/><rect x="494.9" y="268.74" width="9.0" height="8.76" fill="#ffde00"/><rect x="494.9" y="260.27" width="9.0" height="8.76" fill="#ffd700"/><rect x="494.9" y="251.81" width="9.0" height="8.76" fill="#ffd000"/><rect x="494.9" y="243.35" width="9.0" height="8.76" fill="#ff8a00"/><rect x="494.9" y="234.89" width="9.0" height="8.76" fill="#ff8500"/><rect x="494.9" y="226.43" width="9.0" height="8.76" fill="#ff8000"/><rect x="494.9" y="217.96" width="9.0" height="8.76" fill="#ff7c00"/><rect x="494.9" y="209.50" width="9.0" height="8.76" fill="#ff7700"/><rect x="494.9" y="201.04" width="9.0" height="8.76" fill="#ff7200"/><rect x="494.9" y="192.57" width="9.0" height="8.76" fill="#ff3d00"/><rect x="494.9" y="184.11" width="9.0" height="8.76" fill="#ff3700"/><rect x="494.9" y="175.65" width="9.0" height="8.76" fill="#ff3000"/><rect x="494.9" y="167.19" width="9.0" height="8.76" fill="#ff2a00"/><rect x="494.9" y="158.72" width="9.0" height="8.76" fill="#ff2400"/><rect x="494.9" y="150.26" width="9.0" height="8.76" fill="#ff1d00"/><rect x="494.9" y="141.80" width="9.0" height="8.76" fill="#ff1700"/><rect x="494.9" y="133.34" width="9.0" height="8.76" fill="#c40101"/><rect x="494.9" y="124.88" width="9.0" height="8.76" fill="#bc0303"/><rect x="494.9" y="116.41" width="9.0" height="8.76" fill="#b40404"/><rect x="494.9" y="107.95" width="9.0" height="8.76" fill="#ac0606"/><rect x="494.9" y="99.49" width="9.0" height="8.76" fill="#a40808"/><rect x="494.9" y="91.02" width="9.0" height="8.76" fill="#9c0909"/><rect x="494.9" y="82.56" width="9.0" height="8.76" fill="#940b0b"/><rect x="494.9" y="74.10" width="9.0" height="8.76" fill="#5f1111"/><rect x="494.9" y="65.64" width="9.0" height="8.76" fill="#5e1414"/><rect x="494.9" y="57.17" width="9.0" height="8.76" fill="#5d1616"/><rect x="494.9" y="48.71" width="9.0" height="8.76" fill="#5c1818"/><rect x="494.9" y="40.25" width="9.0" height="8.76" fill="#5b1b1b"/><line x1="503.9" y1="548.00" x2="506.09999999999997" y2="548.00" stroke="#000" stroke-width="0.9"/><text x="524.5" y="557.00" font-size="20" text-anchor="middle">0</text><line x1="503.9" y1="497.23" x2="506.09999999999997" y2="497.23" stroke="#000" stroke-width="0.9"/><text x="524.5" y="506.23" font-size="20" text-anchor="middle">6</text><line x1="503.9" y1="446.45" x2="506.09999999999997" y2="446.45" stroke="#000" stroke-width="0.9"/><text x="524.5" y="455.45" font-size="20" text-anchor="middle">12</text><line x1="503.9" y1="395.67" x2="506.09999999999997" y2="395.67" stroke="#000" stroke-width="0.9"/><text x="524.5" y="404.67" font-size="20" text-anchor="middle">18</text><line x1="503.9" y1="344.90" x2="506.09999999999997" y2="344.90" stroke="#000" stroke-width="0.9"/><text x="524.5" y="353.90" font-size="20" text-anchor="middle">24</text><line x1="503.9" y1="294.12" x2="506.09999999999997" y2="294.12" stroke="#000" stroke-width="0.9"/><text x="524.5" y="303.12" font-size="20" text-anchor="middle">30</text><line x1="503.9" y1="243.35" x2="506.09999999999997" y2="243.35" stroke="#000" stroke-width="0.9"/><text x="524.5" y="252.35" font-size="20" text-anchor="middle">36</text><line x1="503.9" y1="192.57" x2="506.09999999999997" y2="192.57" stroke="#000" stroke-width="0.9"/><text x="524.5" y="201.57" font-size="20" text-anchor="middle">42</text><line x1="503.9" y1="141.80" x2="506.09999999999997" y2="141.80" stroke="#000" stroke-width="0.9"/><text x="524.5" y="150.80" font-size="20" text-anchor="middle">48</text><line x1="503.9" y1="91.02" x2="506.09999999999997" y2="91.02" stroke="#000" stroke-width="0.9"/><text x="524.5" y="100.02" font-size="20" text-anchor="middle">54</text><text x="38" y="66" font-size="25">2A12 rainrate (mm/hr)</text><text x="440" y="523" font-size="29">(f)</text></g><g transform="translate(0.0,1181.0)"><clipPath id="clipg"><path d="M13.3,351.0 L91.7,319.4 L158.1,290.9 L202.4,268.8 L246.6,246.6 L316.2,215.0 L366.8,189.7 L404.7,164.4 L485.4,121.7 L485.4,487.0 L366.8,548.6 L13.3,548.6Z"/></clipPath><g clip-path="url(#clipg)"><g><path d="M13.3,351.0 L91.7,319.4 L158.1,290.9 L202.4,268.8 L246.6,246.6 L316.2,215.0 L366.8,189.7 L404.7,164.4 L485.4,121.7 L485.4,487.0 L366.8,548.6 L13.3,548.6Z" fill="#d4d4d4" /><path d="M91.7,319.4 L158.1,290.9 L202.4,268.8 L246.6,246.6 L316.2,215.0 L366.8,189.7 L404.7,164.4 L485.4,121.7 L493.3,121.7 L493.3,487.0 L379.4,541.3 L368.1,535.0 L344.3,525.5 L320.6,522.4 L279.8,516.0 L257.4,503.4 L240.3,486.0 L226.1,474.9 L211.9,462.3 L199.2,449.6 L189.7,440.2 L181.8,430.7 L183.4,418.0 L167.6,408.5 L156.5,403.8 L154.9,392.7 L150.2,381.7 L139.1,373.8 L126.5,370.6 L120.2,364.3 L117.0,354.8 L110.7,346.9 L102.8,337.4 L94.9,326.3Z" fill="#ff9410" /><path d="M452.2,388.9 L485.4,379.4 L485.4,417.4 L455.3,417.4Z" fill="#ffc000" /><path d="M368.1,328.9 L395.3,322.5 L415.5,341.5 L404.7,357.9 L373.1,354.2Z" fill="#ffc000" /><path d="M215.0,284.6 L240.3,268.8 L253.0,284.6 L234.0,303.6 L218.2,300.4Z" fill="#ffc000" /><path d="M275.1,386.4 L298.5,388.0 L313.0,395.3 L325.7,411.1 L347.8,430.0 L383.9,437.9 L418.7,433.2 L456.6,431.6 L485.4,428.5 L485.4,438.6 L470.8,440.2 L456.6,443.3 L434.5,441.7 L418.7,444.9 L399.7,451.2 L383.9,449.6 L360.2,448.1 L336.4,443.3 L320.6,438.6 L301.7,430.7 L289.0,421.2 L279.5,405.4 L276.4,389.6Z" fill="#fff000" /><path d="M340.8,200.2 L369.7,190.5 L377.2,218.4 L407.3,237.7 L434.1,248.5 L485.6,246.3 L485.6,269.9 L439.5,276.4 L407.3,272.1 L375.1,257.1 L348.3,239.9Z" fill="#ffb400" /><path d="M405.1,165.9 L485.6,121.3 L485.6,248.5 L450.2,246.3 L430.9,248.5 L418.0,245.3Z" fill="#ffd400" /><path d="M300.0,219.5 L367.6,186.2 L375.1,216.3 L353.6,216.3 L332.2,221.6 L310.7,227.0Z" fill="#ffb800" /><path d="M367.6,186.2 L405.1,165.9 L412.6,173.4 L423.4,189.5 L434.1,200.2 L452.3,212.0 L456.6,218.4 L448.1,222.7 L439.5,229.2 L437.3,241.0 L430.9,248.5 L418.0,245.3 L405.1,236.7 L392.3,227.0 L377.2,218.4 L374.0,207.7 L370.8,197.0Z" fill="#3858f0" stroke="#000" stroke-width="1.2" stroke-linejoin="round" /><path d="M375.1,194.8 L396.6,184.1 L407.3,194.8 L418.0,210.9 L407.3,216.3 L391.2,210.9 L377.2,203.4Z" fill="#90b8ff" /><path d="M407.3,205.6 L413.7,206.6 L423.4,216.3 L418.0,219.5 L408.4,215.2Z" fill="#ffe000" stroke="#000" stroke-width="1.0" stroke-linejoin="round" /><path d="M407.3,165.9 L426.6,156.2 L434.1,169.1 L445.9,179.8 L460.9,190.5 L477.0,194.8 L485.6,192.7 L485.6,216.3 L473.8,212.0 L458.8,203.4 L442.7,192.7 L428.7,182.0 L415.9,173.4Z" fill="#2a48ec" stroke="#000" stroke-width="1.2" stroke-linejoin="round" /><path d="M439.5,147.6 L456.6,138.0 L460.9,149.8 L467.4,160.5 L473.8,169.1 L460.9,164.8 L450.2,157.3Z" fill="#2a48ec" stroke="#000" stroke-width="1.2" stroke-linejoin="round" /><path d="M458.8,136.9 L485.6,121.3 L485.6,143.3 L477.0,139.0 L467.4,141.2Z" fill="#4a70f0" /><path d="M437.3,186.2 L440.5,184.1 L458.8,197.0 L460.9,200.2 L455.6,199.1Z" fill="#ffe000" /><path d="M448.1,224.9 L455.6,222.7 L458.8,229.2 L452.3,232.4Z" fill="#2040e8" stroke="#000" stroke-width="1.0" stroke-linejoin="round" /><path d="M467.4,222.7 L475.9,221.6 L477.0,229.2 L469.5,230.2Z" fill="#2040e8" stroke="#000" stroke-width="1.0" stroke-linejoin="round" /><path d="M475.9,235.6 L485.6,232.4 L485.6,245.3 L478.1,244.2Z" fill="#2040e8" stroke="#000" stroke-width="1.0" stroke-linejoin="round" /><path d="M423.4,241.0 L430.9,242.0 L429.8,247.4 L424.4,246.3Z" fill="#2040e8" stroke="#000" stroke-width="1.0" stroke-linejoin="round" /><path d="M350.4,237.7 L360.1,230.2 L366.5,232.4 L370.8,248.5 L368.7,261.3 L364.4,269.9 L359.0,278.5 L353.6,278.5 L356.9,264.6 L357.9,248.5Z" fill="#2040e8" stroke="#000" stroke-width="1.2" stroke-linejoin="round" /><path d="M329.0,217.4 L336.5,216.3 L345.1,224.9 L340.8,227.0 L332.2,221.6Z" fill="#2040e8" stroke="#000" stroke-width="1.0" stroke-linejoin="round" /><path d="M347.2,202.3 L351.5,202.3 L355.8,212.0 L350.4,219.5 L347.2,214.1Z" fill="#4a70f0" stroke="#000" stroke-width="1.0" stroke-linejoin="round" /><path d="M234.0,259.3 L246.6,243.5 L278.3,224.5 L313.0,218.2 L335.2,230.8 L343.1,253.0 L338.3,275.1 L325.7,290.9 L309.9,303.6 L284.6,313.0 L262.5,309.9 L246.6,290.9 L234.0,278.3Z" fill="#c81a14" stroke="#000" stroke-width="1.2" stroke-linejoin="round" /><path d="M268.8,230.8 L313.0,221.3 L332.0,240.3 L328.9,259.3 L303.6,262.5 L278.3,253.0Z" fill="#a81c1c" /><path d="M262.5,278.3 L278.3,265.6 L297.2,262.5 L309.9,275.1 L309.9,294.1 L294.1,305.1 L271.9,303.6 L262.5,290.9Z" fill="#6e2c2c" /><path d="M417.1,316.2 L442.7,310.5 L468.0,308.3 L485.4,313.0 L485.4,347.8 L468.0,361.1 L442.7,360.5 L420.6,351.0 L414.2,332.0Z" fill="#e83a10" stroke="#000" stroke-width="1.0" stroke-linejoin="round" /><path d="M401.3,364.3 L423.7,363.6 L439.2,373.1 L423.7,380.1 L404.7,379.4Z" fill="#e84810" stroke="#000" stroke-width="1.0" stroke-linejoin="round" /><path d="M375.1,284.9 L385.8,282.8 L389.0,291.4 L381.5,293.5Z" fill="#d02010" stroke="#000" stroke-width="1.0" stroke-linejoin="round" /><path d="M460.9,287.1 L467.4,283.9 L471.7,291.4 L465.2,293.5Z" fill="#a02828" stroke="#000" stroke-width="1.0" stroke-linejoin="round" /><path d="M215.0,313.0 L240.3,309.9 L268.8,316.2 L297.2,319.4 L316.2,313.0 L328.5,320.0 L327.0,342.1 L319.1,345.3 L304.8,350.0 L296.9,357.9 L298.5,373.8 L304.8,384.8 L320.6,381.7 L333.3,373.8 L336.4,380.1 L323.8,388.0 L298.5,388.0 L276.4,389.6 L279.5,405.4 L289.0,421.2 L301.7,430.7 L320.6,438.6 L336.4,443.3 L360.2,448.1 L383.9,449.6 L399.7,451.2 L418.7,444.9 L434.5,441.7 L456.6,443.3 L470.8,440.2 L485.4,438.6 L485.4,487.0 L462.9,484.4 L431.3,478.1 L399.7,473.4 L368.1,465.5 L336.4,460.7 L304.8,449.6 L281.1,437.0 L257.4,421.2 L249.5,389.6 L240.3,379.4 L227.7,347.8 L221.3,332.0Z" fill="#1a2ae4" stroke="#000" stroke-width="1.2" stroke-linejoin="round" /><path d="M234.0,319.4 L268.8,325.7 L284.6,335.2 L278.3,351.0 L259.3,360.5 L240.3,347.8Z" fill="#80b0ff" /><path d="M333.3,299.4 L354.2,294.1 L369.6,303.6 L366.8,320.0 L341.5,316.2Z" fill="#1a2ae4" stroke="#000" stroke-width="1.2" stroke-linejoin="round" /><path d="M225.8,316.2 L240.3,315.3 L253.0,325.7 L257.4,341.5 L249.8,350.0 L234.0,344.7 L227.7,332.0Z" fill="#ffc800" stroke="#000" stroke-width="1.0" stroke-linejoin="round" /><path d="M287.4,331.1 L297.2,332.0 L301.7,344.7 L290.9,346.9Z" fill="#ffd800" stroke="#000" stroke-width="1.0" stroke-linejoin="round" /><path d="M254.2,369.0 L268.8,368.4 L279.5,376.3 L268.8,381.7 L256.1,377.9Z" fill="#ffe000" stroke="#000" stroke-width="1.0" stroke-linejoin="round" /><path d="M243.2,354.8 L256.1,354.2 L263.7,362.1 L249.8,364.3Z" fill="#ffe000" stroke="#000" stroke-width="1.0" stroke-linejoin="round" /><path d="M221.3,332.0 L227.7,347.8 L240.3,379.4 L249.5,389.6 L257.4,421.2 L281.1,437.0 L304.8,449.6 L336.4,460.7 L368.1,465.5 L399.7,473.4 L431.3,478.1 L462.9,484.4 L485.4,487.0 L493.3,487.0 L493.3,493.3 L411.1,537.5 L404.4,525.5 L404.4,525.5 L379.4,521.7 L347.8,515.4 L316.2,505.9 L284.6,487.0 L259.3,464.8 L240.3,442.7 L221.3,423.7 L205.5,414.2 L189.7,407.9 L177.1,398.4 L170.8,380.1 L164.4,363.6 L158.1,332.0 L177.1,313.0 L202.4,303.6Z" fill="#98bcfc" /><path d="M284.6,468.0 L316.2,477.5 L347.8,485.4 L379.4,490.1 L411.1,493.3 L458.5,491.7 L493.3,488.5 L493.3,499.6 L442.7,512.3 L411.1,524.9 L379.4,518.6 L347.8,509.1 L316.2,498.0 L294.1,487.0Z" fill="#5a80f4" /><path d="M202.4,316.2 L221.3,335.2 L227.7,354.2 L218.2,379.4 L205.5,366.8 L196.0,341.5Z" fill="#3050f0" /><path d="M189.7,379.4 L208.7,388.9 L227.7,411.1 L221.3,423.7 L202.4,407.9Z" fill="#5a80f4" /><path d="M91.7,319.4 L202.4,268.8 L208.7,284.6 L221.3,303.6 L215.0,313.0 L202.4,303.6 L177.1,313.0 L158.1,332.0 L164.4,363.6 L170.8,380.1 L151.8,373.1 L132.8,354.2 L113.8,341.5 L101.2,335.2Z" fill="#4a6cf0" /><path d="M94.9,317.8 L158.1,289.0 L151.8,309.9 L126.5,322.5 L101.2,328.9Z" fill="#2234e8" /><path d="M120.2,316.2 L139.1,309.9 L164.4,316.2 L158.1,347.8 L145.5,354.2 L126.5,341.5Z" fill="#90bcff" /><path d="M156.8,290.9 L167.6,287.7 L172.3,309.9 L162.8,314.6Z" fill="#ffd800" stroke="#000" stroke-width="1.0" stroke-linejoin="round" /><path d="M134.4,330.4 L145.5,332.0 L154.9,354.2 L140.7,358.9Z" fill="#ffb000" stroke="#000" stroke-width="1.0" stroke-linejoin="round" /><path d="M170.8,313.0 L180.2,316.2 L183.4,325.7 L173.9,325.7Z" fill="#ffe000" stroke="#000" stroke-width="1.0" stroke-linejoin="round" /><path d="M92.3,319.4 L94.9,326.3 L102.8,337.4 L110.7,346.9 L117.0,354.8 L120.2,364.3 L126.5,370.6 L139.1,373.8 L150.2,381.7 L154.9,392.7 L156.5,403.8 L167.6,408.5 L173.9,414.9 L183.4,418.0 L181.8,430.7 L189.7,440.2 L199.2,449.6 L205.5,456.0 L211.9,462.3 L218.2,468.6 L226.1,474.9 L234.0,481.3 L240.3,486.0 L257.4,503.4 L279.8,516.0 L320.6,522.4 L344.3,525.5 L368.1,535.0 L379.4,541.3 L382.6,547.0 L417.4,534.4 L404.4,525.5 L404.4,525.5 L379.4,521.7 L347.8,515.4 L316.2,505.9 L284.6,487.0 L259.3,464.8 L240.3,442.7 L221.3,423.7 L205.5,414.2 L189.7,407.9 L177.1,398.4 L170.8,380.1 L158.1,373.1 L136.0,351.0 L113.8,332.0Z" fill="#80d888" /><path d="M148.6,335.2 L164.4,332.0 L177.1,354.2 L173.9,379.4 L158.1,373.1 L148.6,354.2Z" fill="#80d888" /><path d="M120.2,354.2 L132.8,347.8 L139.1,366.8 L126.5,370.0Z" fill="#80d888" /><path d="M189.7,388.9 L208.7,395.3 L221.3,411.1 L202.4,411.1Z" fill="#80d888" /><path d="M126.5,335.2 L142.3,338.3 L151.8,354.2 L139.1,357.3Z" fill="#80d888" /><path d="M13.3,351.0 L92.3,319.4 L94.9,326.3 L102.8,337.4 L110.7,346.9 L117.0,354.8 L120.2,364.3 L126.5,370.6 L139.1,373.8 L150.2,381.7 L154.9,392.7 L156.5,403.8 L167.6,408.5 L173.9,414.9 L183.4,418.0 L181.8,430.7 L189.7,440.2 L199.2,449.6 L205.5,456.0 L211.9,462.3 L218.2,468.6 L226.1,474.9 L234.0,481.3 L240.3,486.0 L257.4,503.4 L279.8,516.0 L320.6,522.4 L344.3,525.5 L368.1,535.0 L379.4,541.3 L366.8,548.6 L13.3,548.6Z" fill="#d4d4d4" /><path d="M92.3,319.4 L94.9,326.3 L102.8,337.4 L110.7,346.9 L117.0,354.8 L120.2,364.3 L126.5,370.6 L139.1,373.8 L150.2,381.7 L154.9,392.7 L156.5,403.8 L167.6,408.5 L173.9,414.9 L183.4,418.0 L181.8,430.7 L189.7,440.2 L199.2,449.6 L205.5,456.0 L211.9,462.3 L218.2,468.6 L226.1,474.9 L234.0,481.3 L240.3,486.0 L257.4,503.4 L279.8,516.0 L320.6,522.4 L344.3,525.5 L368.1,535.0 L379.4,541.3" fill="none" stroke="#000" stroke-width="1.1"/><path d="M189.7,442.7 L221.3,449.0 L246.6,464.8 L240.3,471.1 L215.0,461.7Z" fill="#b4b4b4" /><path d="M94.9,474.3 L142.3,480.6 L164.4,499.6 L126.5,502.8 L101.2,493.3Z" fill="#c8c8c8" /><path d="M183.4,335.2 L202.4,332.0 L208.7,344.7 L199.2,354.2 L183.4,351.0Z" fill="#a8a8a8" stroke="#000" stroke-width="1.0" stroke-linejoin="round" /><path d="M192.9,354.2 L215.0,351.0 L221.3,366.8 L208.7,376.3 L194.5,370.0Z" fill="#a8a8a8" stroke="#000" stroke-width="1.0" stroke-linejoin="round" /><path d="M180.2,300.4 L199.2,298.8 L205.5,311.5 L186.6,314.6Z" fill="#b0b0b0" stroke="#000" stroke-width="1.0" stroke-linejoin="round" /><path d="M275.1,449.0 L294.1,445.8 L303.6,458.5 L284.6,464.8Z" fill="#a8a8a8" stroke="#000" stroke-width="1.0" stroke-linejoin="round" /><text x="326" y="282" font-size="20" text-anchor="middle" transform="rotate(-50 326 275)">250</text></g></g><line x1="89.80" y1="41" x2="89.80" y2="550" stroke="#000" stroke-width="1.1" stroke-dasharray="3 5.28"/><line x1="168.56" y1="41" x2="168.56" y2="550" stroke="#000" stroke-width="1.1" stroke-dasharray="3 5.28"/><line x1="247.32" y1="41" x2="247.32" y2="550" stroke="#000" stroke-width="1.1" stroke-dasharray="3 5.28"/><line x1="326.08" y1="41" x2="326.08" y2="550" stroke="#000" stroke-width="1.1" stroke-dasharray="3 5.28"/><line x1="404.84" y1="41" x2="404.84" y2="550" stroke="#000" stroke-width="1.1" stroke-dasharray="3 5.28"/><line x1="483.60" y1="41" x2="483.60" y2="550" stroke="#000" stroke-width="1.1" stroke-dasharray="3 5.28"/><line x1="13" y1="90.60" x2="486" y2="90.60" stroke="#000" stroke-width="1.1" stroke-dasharray="3.2 4.9"/><line x1="13" y1="175.16" x2="486" y2="175.16" stroke="#000" stroke-width="1.1" stroke-dasharray="3.2 4.9"/><line x1="13" y1="259.72" x2="486" y2="259.72" stroke="#000" stroke-width="1.1" stroke-dasharray="3.2 4.9"/><line x1="13" y1="344.28" x2="486" y2="344.28" stroke="#000" stroke-width="1.1" stroke-dasharray="3.2 4.9"/><line x1="13" y1="428.84" x2="486" y2="428.84" stroke="#000" stroke-width="1.1" stroke-dasharray="3.2 4.9"/><line x1="13" y1="513.40" x2="486" y2="513.40" stroke="#000" stroke-width="1.1" stroke-dasharray="3.2 4.9"/><path d="M12.9,474.6 Q249.2,380.7 485.6,249.9" fill="none" stroke="#000" stroke-width="1.1" stroke-dasharray="11.5 11.5"/><path d="M86.4,548.3 Q286.0,465.0 485.6,357.5" fill="none" stroke="#000" stroke-width="1.1" stroke-dasharray="11.5 11.5"/><text x="257.6" y="91.40" font-size="12.5">-18</text><text x="257.6" y="175.96" font-size="12.5">-20</text><text x="257.6" y="260.52" font-size="12.5">-22</text><text x="257.6" y="345.08" font-size="12.5">-24</text><text x="257.6" y="429.64" font-size="12.5">-26</text><text x="257.6" y="514.20" font-size="12.5">-28</text><text x="89.80" y="281" font-size="12.5" text-anchor="middle">56</text><text x="168.56" y="281" font-size="12.5" text-anchor="middle">58</text><text x="247.32" y="281" font-size="12.5" text-anchor="middle">60</text><text x="326.08" y="281" font-size="12.5" text-anchor="middle">62</text><text x="404.84" y="281" font-size="12.5" text-anchor="middle">64</text><text x="483.60" y="281" font-size="12.5" text-anchor="middle">66</text><rect x="242.9" y="291.9" width="13" height="5.2" fill="#000"/><rect x="246.8" y="288.0" width="5.2" height="13" fill="#000"/><rect x="494.9" y="531.08" width="9.0" height="8.76" fill="#f4f4f4"/><rect x="494.9" y="522.61" width="9.0" height="8.76" fill="#ededed"/><rect x="494.9" y="514.15" width="9.0" height="8.76" fill="#e5e5e5"/><rect x="494.9" y="505.69" width="9.0" height="8.76" fill="#dedede"/><rect x="494.9" y="497.23" width="9.0" height="8.76" fill="#d6d6d6"/><rect x="494.9" y="488.76" width="9.0" height="8.76" fill="#cecece"/><rect x="494.9" y="480.30" width="9.0" height="8.76" fill="#c7c7c7"/><rect x="494.9" y="471.84" width="9.0" height="8.76" fill="#bfbfbf"/><rect x="494.9" y="463.38" width="9.0" height="8.76" fill="#b8b8b8"/><rect x="494.9" y="454.91" width="9.0" height="8.76" fill="#b0b0b0"/><rect x="494.9" y="446.45" width="9.0" height="8.76" fill="#a8a8a8"/><rect x="494.9" y="437.99" width="9.0" height="8.76" fill="#a1a1a1"/><rect x="494.9" y="429.52" width="9.0" height="8.76" fill="#999999"/><rect x="494.9" y="421.06" width="9.0" height="8.76" fill="#929292"/><rect x="494.9" y="412.60" width="9.0" height="8.76" fill="#7cdb84"/><rect x="494.9" y="404.14" width="9.0" height="8.76" fill="#75d07b"/><rect x="494.9" y="395.67" width="9.0" height="8.76" fill="#6dc573"/><rect x="494.9" y="387.21" width="9.0" height="8.76" fill="#65ba6b"/><rect x="494.9" y="378.75" width="9.0" height="8.76" fill="#5eaf62"/><rect x="494.9" y="370.29" width="9.0" height="8.76" fill="#d0d8ff"/><rect x="494.9" y="361.82" width="9.0" height="8.76" fill="#b8d0ff"/><rect x="494.9" y="353.36" width="9.0" height="8.76" fill="#a0c8ff"/><rect x="494.9" y="344.90" width="9.0" height="8.76" fill="#80c0ff"/><rect x="494.9" y="336.44" width="9.0" height="8.76" fill="#60b0ff"/><rect x="494.9" y="327.98" width="9.0" height="8.76" fill="#50aaff"/><rect x="494.9" y="319.51" width="9.0" height="8.76" fill="#4888f0"/><rect x="494.9" y="311.05" width="9.0" height="8.76" fill="#4068f8"/><rect x="494.9" y="302.59" width="9.0" height="8.76" fill="#3a48ff"/><rect x="494.9" y="294.12" width="9.0" height="8.76" fill="#2828ff"/><rect x="494.9" y="285.66" width="9.0" height="8.76" fill="#0000fb"/><rect x="494.9" y="277.20" width="9.0" height="8.76" fill="#0000f4"/><rect x="494.9" y="268.74" width="9.0" height="8.76" fill="#0000d9"/><rect x="494.9" y="260.27" width="9.0" height="8.76" fill="#0000ca"/><rect x="494.9" y="251.81" width="9.0" height="8.76" fill="#0000bb"/><rect x="494.9" y="243.35" width="9.0" height="8.76" fill="#fffa00"/><rect x="494.9" y="234.89" width="9.0" height="8.76" fill="#fff000"/><rect x="494.9" y="226.43" width="9.0" height="8.76" fill="#ffe600"/><rect x="494.9" y="217.96" width="9.0" height="8.76" fill="#ffdb00"/><rect x="494.9" y="209.50" width="9.0" height="8.76" fill="#ffd100"/><rect x="494.9" y="201.04" width="9.0" height="8.76" fill="#ff8900"/><rect x="494.9" y="192.57" width="9.0" height="8.76" fill="#ff8400"/><rect x="494.9" y="184.11" width="9.0" height="8.76" fill="#ff7e00"/><rect x="494.9" y="175.65" width="9.0" height="8.76" fill="#ff7800"/><rect x="494.9" y="167.19" width="9.0" height="8.76" fill="#ff7300"/><rect x="494.9" y="158.72" width="9.0" height="8.76" fill="#ff3c00"/><rect x="494.9" y="150.26" width="9.0" height="8.76" fill="#ff3300"/><rect x="494.9" y="141.80" width="9.0" height="8.76" fill="#ff2a00"/><rect x="494.9" y="133.34" width="9.0" height="8.76" fill="#ff2100"/><rect x="494.9" y="124.88" width="9.0" height="8.76" fill="#ff1800"/><rect x="494.9" y="116.41" width="9.0" height="8.76" fill="#c30101"/><rect x="494.9" y="107.95" width="9.0" height="8.76" fill="#ba0404"/><rect x="494.9" y="99.49" width="9.0" height="8.76" fill="#b00606"/><rect x="494.9" y="91.02" width="9.0" height="8.76" fill="#a60808"/><rect x="494.9" y="82.56" width="9.0" height="8.76" fill="#9d0b0b"/><rect x="494.9" y="74.10" width="9.0" height="8.76" fill="#5f1111"/><rect x="494.9" y="65.64" width="9.0" height="8.76" fill="#5e1414"/><rect x="494.9" y="57.17" width="9.0" height="8.76" fill="#5d1616"/><rect x="494.9" y="48.71" width="9.0" height="8.76" fill="#5c1818"/><rect x="494.9" y="40.25" width="9.0" height="8.76" fill="#5b1b1b"/><line x1="503.9" y1="548.00" x2="506.09999999999997" y2="548.00" stroke="#000" stroke-width="0.9"/><text x="524.5" y="557.00" font-size="20" text-anchor="middle">304</text><line x1="503.9" y1="497.23" x2="506.09999999999997" y2="497.23" stroke="#000" stroke-width="0.9"/><text x="524.5" y="506.23" font-size="20" text-anchor="middle">292</text><line x1="503.9" y1="446.45" x2="506.09999999999997" y2="446.45" stroke="#000" stroke-width="0.9"/><text x="524.5" y="455.45" font-size="20" text-anchor="middle">280</text><line x1="503.9" y1="395.67" x2="506.09999999999997" y2="395.67" stroke="#000" stroke-width="0.9"/><text x="524.5" y="404.67" font-size="20" text-anchor="middle">268</text><line x1="503.9" y1="344.90" x2="506.09999999999997" y2="344.90" stroke="#000" stroke-width="0.9"/><text x="524.5" y="353.90" font-size="20" text-anchor="middle">256</text><line x1="503.9" y1="294.12" x2="506.09999999999997" y2="294.12" stroke="#000" stroke-width="0.9"/><text x="524.5" y="303.12" font-size="20" text-anchor="middle">244</text><line x1="503.9" y1="243.35" x2="506.09999999999997" y2="243.35" stroke="#000" stroke-width="0.9"/><text x="524.5" y="252.35" font-size="20" text-anchor="middle">232</text><line x1="503.9" y1="192.57" x2="506.09999999999997" y2="192.57" stroke="#000" stroke-width="0.9"/><text x="524.5" y="201.57" font-size="20" text-anchor="middle">220</text><line x1="503.9" y1="141.80" x2="506.09999999999997" y2="141.80" stroke="#000" stroke-width="0.9"/><text x="524.5" y="150.80" font-size="20" text-anchor="middle">208</text><line x1="503.9" y1="91.02" x2="506.09999999999997" y2="91.02" stroke="#000" stroke-width="0.9"/><text x="524.5" y="100.02" font-size="20" text-anchor="middle">196</text><text x="38" y="66" font-size="25">VIRS T<tspan font-size="15" dy="5.5">B11</tspan><tspan dy="-5.5"> (K)</tspan></text><text x="440" y="523" font-size="29">(g)</text></g><g transform="translate(590.5,1181.0)"><g><path d="M241.8,373.7 L279.1,355.0 L311.3,338.1 L352.0,319.5 L368.9,309.3 L402.8,290.7 L448.5,269.5 L446.8,280.5 L447.7,292.3 L457.0,297.4 L470.5,299.1 L482.4,309.3 L485.8,324.5 L485.8,358.4 L445.1,378.7 L424.8,382.1 L414.6,390.6 L402.8,399.1 L368.9,416.0 L331.6,436.3 L318.1,429.6 L301.1,426.2 L275.7,417.7 L267.3,407.5 L255.4,397.4 L248.6,382.1Z" fill="#1414f0" /><ellipse cx="321.5" cy="340.6" rx="5.1" ry="2.4" fill="#ff4a10" transform="rotate(-25 321.5 340.6)"/><ellipse cx="329.9" cy="334.7" rx="2.4" ry="5.1" fill="#ff4a10" transform="rotate(-25 329.9 334.7)"/><ellipse cx="340.1" cy="335.5" rx="6.8" ry="2.0" fill="#ff4a10" transform="rotate(-25 340.1 335.5)"/><ellipse cx="345.2" cy="329.6" rx="5.1" ry="2.4" fill="#ff4a10" transform="rotate(-25 345.2 329.6)"/><ellipse cx="357.0" cy="331.3" rx="4.2" ry="6.8" fill="#ff4a10" transform="rotate(-35 357.0 331.3)"/><ellipse cx="365.5" cy="321.1" rx="2.4" ry="5.9" fill="#ff4a10" transform="rotate(-30 365.5 321.1)"/><ellipse cx="375.7" cy="311.0" rx="5.1" ry="2.0" fill="#ff4a10" transform="rotate(-25 375.7 311.0)"/><ellipse cx="380.8" cy="305.1" rx="3.7" ry="2.0" fill="#ff4a10" transform="rotate(-25 380.8 305.1)"/><ellipse cx="382.4" cy="324.5" rx="2.5" ry="8.5" fill="#ff4a10" transform="rotate(-20 382.4 324.5)"/><ellipse cx="390.9" cy="312.7" rx="2.0" ry="7.6" fill="#ff4a10" transform="rotate(-20 390.9 312.7)"/><ellipse cx="398.5" cy="333.0" rx="2.0" ry="3.4" fill="#ff4a10" transform="rotate(0 398.5 333.0)"/><ellipse cx="412.9" cy="290.7" rx="5.1" ry="2.4" fill="#ff4a10" transform="rotate(-25 412.9 290.7)"/><ellipse cx="307.9" cy="355.0" rx="4.2" ry="1.7" fill="#ff4a10" transform="rotate(-25 307.9 355.0)"/><ellipse cx="321.5" cy="352.5" rx="2.0" ry="1.7" fill="#ff4a10" transform="rotate(0 321.5 352.5)"/><ellipse cx="348.6" cy="341.5" rx="2.5" ry="1.4" fill="#ff4a10" transform="rotate(0 348.6 341.5)"/><ellipse cx="368.9" cy="344.9" rx="1.7" ry="1.4" fill="#ff4a10" transform="rotate(0 368.9 344.9)"/><ellipse cx="457.8" cy="300.0" rx="5.9" ry="3.0" fill="#ff4a10" transform="rotate(-30 457.8 300.0)"/><ellipse cx="460.4" cy="322.0" rx="2.5" ry="5.9" fill="#ff4a10" transform="rotate(-10 460.4 322.0)"/><ellipse cx="457.0" cy="358.4" rx="6.8" ry="7.6" fill="#ff4a10" transform="rotate(-30 457.0 358.4)"/><ellipse cx="445.1" cy="372.8" rx="3.7" ry="2.4" fill="#ff4a10" transform="rotate(-25 445.1 372.8)"/><ellipse cx="473.9" cy="311.0" rx="5.1" ry="2.4" fill="#ff4a10" transform="rotate(-25 473.9 311.0)"/><ellipse cx="434.1" cy="313.5" rx="3.4" ry="2.4" fill="#ff4a10" transform="rotate(-30 434.1 313.5)"/><ellipse cx="447.7" cy="334.7" rx="1.7" ry="2.5" fill="#ff4a10" transform="rotate(0 447.7 334.7)"/><ellipse cx="409.6" cy="307.6" rx="2.0" ry="1.4" fill="#ff4a10" transform="rotate(0 409.6 307.6)"/><ellipse cx="467.1" cy="351.6" rx="3.4" ry="2.4" fill="#ff4a10" transform="rotate(0 467.1 351.6)"/><ellipse cx="419.7" cy="366.9" rx="2.4" ry="1.7" fill="#ff4a10" transform="rotate(0 419.7 366.9)"/><path d="M287.6,399.1 L294.4,397.4 L307.9,399.1 L316.4,402.5 L307.9,405.0 L294.4,405.8 L287.6,403.3Z" fill="#fff" /><path d="M329.9,395.7 L343.5,392.3 L358.7,388.9 L363.8,393.1 L352.0,397.4 L338.4,400.8 L331.6,399.1Z" fill="#fff" /><path d="M294.4,366.9 L307.9,366.9 L321.5,368.6 L331.6,371.1 L324.9,375.4 L307.9,374.5 L297.7,372.0Z" fill="#fff" /><path d="M257.1,372.0 L267.3,373.7 L277.4,378.7 L272.3,381.3 L262.2,378.7Z" fill="#fff" /><path d="M263.9,390.6 L270.6,392.3 L274.0,396.5 L267.3,397.4Z" fill="#fff" /><path d="M414.6,385.5 L424.8,380.4 L436.7,373.7 L440.0,378.7 L431.6,385.5 L418.0,390.6Z" fill="#fff" /><path d="M451.9,299.1 L460.4,300.8 L463.8,309.3 L457.0,311.0 L451.9,305.9Z" fill="#fff" /><path d="M453.6,321.1 L460.4,322.8 L462.1,329.6 L455.3,329.6Z" fill="#fff" /><path d="M435.0,282.2 L440.0,279.6 L441.7,287.3 L435.8,290.7Z" fill="#fff" /><path d="M280.8,356.7 L294.4,351.6 L309.6,348.2 L301.1,355.0 L287.6,360.1Z" fill="#fff" /><path d="M219.8,451.6 L231.7,457.5 L230.8,459.2 L219.0,453.3Z" fill="#1414f0"/><ellipse cx="208.0" cy="449.0" rx="2.5" ry="1.4" fill="#ff4a10" transform="rotate(-20 208.0 449.0)"/><ellipse cx="235.9" cy="460.1" rx="2.5" ry="2.0" fill="#ff4a10" transform="rotate(-20 235.9 460.1)"/><ellipse cx="280.8" cy="430.4" rx="5.1" ry="2.0" fill="#ff4a10" transform="rotate(-20 280.8 430.4)"/><ellipse cx="206.3" cy="430.4" rx="3.4" ry="1.7" fill="#ff4a10" transform="rotate(-20 206.3 430.4)"/><ellipse cx="156.8" cy="408.2" rx="2.2" ry="1.7" fill="#ff4a10"/><ellipse cx="160.3" cy="412.1" rx="1.9" ry="1.4" fill="#ff4a10"/><ellipse cx="162.6" cy="416.3" rx="2.0" ry="1.5" fill="#ff4a10"/><ellipse cx="168.5" cy="418.7" rx="1.7" ry="1.2" fill="#ff4a10"/><ellipse cx="169.1" cy="425.7" rx="2.0" ry="1.5" fill="#ff4a10"/><ellipse cx="172.4" cy="430.5" rx="2.3" ry="1.8" fill="#ff4a10"/><ellipse cx="178.3" cy="433.1" rx="1.5" ry="1.0" fill="#ff4a10"/><ellipse cx="179.2" cy="436.9" rx="1.5" ry="1.0" fill="#ff4a10"/><ellipse cx="183.3" cy="439.9" rx="1.4" ry="0.9" fill="#ff4a10"/><ellipse cx="187.9" cy="444.8" rx="2.2" ry="1.7" fill="#ff4a10"/><ellipse cx="203.1" cy="430.6" rx="1.8" ry="1.3" fill="#ff4a10"/><ellipse cx="205.8" cy="431.7" rx="1.7" ry="1.2" fill="#ff4a10"/><ellipse cx="209.2" cy="435.8" rx="2.2" ry="1.7" fill="#ff4a10"/><ellipse cx="210.2" cy="434.9" rx="1.6" ry="1.1" fill="#ff4a10"/><ellipse cx="210.6" cy="435.8" rx="2.1" ry="1.6" fill="#ff4a10"/><ellipse cx="213.2" cy="440.8" rx="1.7" ry="1.2" fill="#ff4a10"/><ellipse cx="217.5" cy="442.7" rx="1.4" ry="0.9" fill="#ff4a10"/><ellipse cx="216.6" cy="444.9" rx="1.8" ry="1.3" fill="#ff4a10"/><ellipse cx="221.8" cy="444.7" rx="1.5" ry="1.0" fill="#ff4a10"/><ellipse cx="222.5" cy="448.1" rx="1.6" ry="1.1" fill="#ff4a10"/><ellipse cx="220.3" cy="446.3" rx="2.3" ry="1.8" fill="#1414f0"/><ellipse cx="225.0" cy="447.0" rx="1.6" ry="1.1" fill="#1414f0"/><ellipse cx="224.4" cy="448.4" rx="2.1" ry="1.6" fill="#1414f0"/><ellipse cx="226.7" cy="451.9" rx="1.8" ry="1.3" fill="#1414f0"/><ellipse cx="228.8" cy="454.1" rx="1.5" ry="1.0" fill="#1414f0"/><ellipse cx="232.6" cy="453.2" rx="1.8" ry="1.3" fill="#1414f0"/><ellipse cx="232.9" cy="455.4" rx="2.3" ry="1.8" fill="#1414f0"/><ellipse cx="237.2" cy="457.1" rx="2.2" ry="1.7" fill="#1414f0"/><ellipse cx="236.8" cy="459.0" rx="2.2" ry="1.7" fill="#1414f0"/><ellipse cx="240.6" cy="459.4" rx="2.3" ry="1.8" fill="#1414f0"/></g><line x1="89.80" y1="41" x2="89.80" y2="550" stroke="#000" stroke-width="1.1" stroke-dasharray="3 5.28"/><line x1="168.56" y1="41" x2="168.56" y2="550" stroke="#000" stroke-width="1.1" stroke-dasharray="3 5.28"/><line x1="247.32" y1="41" x2="247.32" y2="550" stroke="#000" stroke-width="1.1" stroke-dasharray="3 5.28"/><line x1="326.08" y1="41" x2="326.08" y2="550" stroke="#000" stroke-width="1.1" stroke-dasharray="3 5.28"/><line x1="404.84" y1="41" x2="404.84" y2="550" stroke="#000" stroke-width="1.1" stroke-dasharray="3 5.28"/><line x1="483.60" y1="41" x2="483.60" y2="550" stroke="#000" stroke-width="1.1" stroke-dasharray="3 5.28"/><line x1="13" y1="90.60" x2="486" y2="90.60" stroke="#000" stroke-width="1.1" stroke-dasharray="3.2 4.9"/><line x1="13" y1="175.16" x2="486" y2="175.16" stroke="#000" stroke-width="1.1" stroke-dasharray="3.2 4.9"/><line x1="13" y1="259.72" x2="486" y2="259.72" stroke="#000" stroke-width="1.1" stroke-dasharray="3.2 4.9"/><line x1="13" y1="344.28" x2="486" y2="344.28" stroke="#000" stroke-width="1.1" stroke-dasharray="3.2 4.9"/><line x1="13" y1="428.84" x2="486" y2="428.84" stroke="#000" stroke-width="1.1" stroke-dasharray="3.2 4.9"/><line x1="13" y1="513.40" x2="486" y2="513.40" stroke="#000" stroke-width="1.1" stroke-dasharray="3.2 4.9"/><path d="M12.9,474.6 Q249.2,380.7 485.6,249.9" fill="none" stroke="#000" stroke-width="1.1" stroke-dasharray="11.5 11.5"/><path d="M86.4,548.3 Q286.0,465.0 485.6,357.5" fill="none" stroke="#000" stroke-width="1.1" stroke-dasharray="11.5 11.5"/><text x="257.6" y="91.40" font-size="12.5">-18</text><text x="257.6" y="175.96" font-size="12.5">-20</text><text x="257.6" y="260.52" font-size="12.5">-22</text><text x="257.6" y="345.08" font-size="12.5">-24</text><text x="257.6" y="429.64" font-size="12.5">-26</text><text x="257.6" y="514.20" font-size="12.5">-28</text><text x="89.80" y="281" font-size="12.5" text-anchor="middle">56</text><text x="168.56" y="281" font-size="12.5" text-anchor="middle">58</text><text x="247.32" y="281" font-size="12.5" text-anchor="middle">60</text><text x="326.08" y="281" font-size="12.5" text-anchor="middle">62</text><text x="404.84" y="281" font-size="12.5" text-anchor="middle">64</text><text x="483.60" y="281" font-size="12.5" text-anchor="middle">66</text><rect x="242.9" y="291.9" width="13" height="5.2" fill="#000"/><rect x="246.8" y="288.0" width="5.2" height="13" fill="#000"/><rect x="494.9" y="209.50" width="9.0" height="169.25" fill="#0000ff"/><rect x="494.9" y="40.25" width="9.0" height="169.25" fill="#ff4000"/><rect x="494.9" y="378.75" width="9.0" height="169.25" fill="#fff"/><rect x="494.9" y="40.25" width="9.0" height="507.75" fill="none" stroke="#000" stroke-width="0.8"/><line x1="503.9" y1="40.25" x2="506.9" y2="40.25" stroke="#000" stroke-width="0.9"/><text x="507.5" y="47.25" font-size="19.2">Conv</text><line x1="503.9" y1="209.50" x2="506.9" y2="209.50" stroke="#000" stroke-width="0.9"/><text x="507.5" y="216.50" font-size="19.2">Strat</text><line x1="503.9" y1="378.75" x2="506.9" y2="378.75" stroke="#000" stroke-width="0.9"/><text x="507.5" y="385.75" font-size="19.2">N/A</text><text x="38" y="66" font-size="25">2A23 rain types</text><text x="440" y="523" font-size="29">(h)</text></g><g transform="translate(1181.0,1181.0)"><g><path d="M241.3,373.7 L278.6,355.0 L310.8,338.1 L351.5,319.5 L368.4,309.3 L402.3,290.7 L448.0,269.5 L446.3,280.5 L447.2,292.3 L456.5,297.4 L470.0,299.1 L481.9,309.3 L485.3,324.5 L485.3,358.4 L444.6,378.7 L424.3,382.1 L414.1,390.6 L402.3,399.1 L368.4,416.0 L331.1,436.3 L317.6,429.6 L300.6,426.2 L275.2,417.7 L266.8,407.5 L254.9,397.4 L248.1,382.1Z" fill="#88d08e" /><path d="M317.6,334.7 L343.0,324.5 L368.4,314.4 L385.3,305.9 L402.3,294.0 L393.8,317.8 L376.9,329.6 L351.5,344.9 L334.5,355.0 L317.6,351.6Z" fill="#b0ccf8" /><path d="M351.5,368.6 L385.3,355.0 L419.2,344.9 L453.1,341.5 L466.6,351.6 L453.1,368.6 L419.2,378.7 L393.8,388.9 L368.4,385.5 L354.8,378.7Z" fill="#a8c8f8" /><path d="M297.2,412.6 L317.6,407.5 L343.0,410.9 L351.5,426.2 L334.5,431.3 L309.1,426.2Z" fill="#a8c4f0" /><path d="M249.8,385.5 L263.4,392.3 L275.2,405.8 L270.1,412.6 L258.3,402.5Z" fill="#b4b4b4" /><path d="M283.7,355.0 L300.6,351.6 L307.4,360.1 L293.9,361.8Z" fill="#b4b4b4" /><path d="M453.1,300.8 L463.3,299.1 L476.8,307.6 L470.0,321.1 L456.5,314.4Z" fill="#c0c0c0" /><path d="M317.6,375.4 L351.5,378.7 L368.4,377.0 L359.9,385.5 L334.5,383.8Z" fill="#a0b0a0" /><path d="M287.1,399.1 L293.9,397.4 L307.4,399.1 L315.9,402.5 L307.4,405.0 L293.9,405.8 L287.1,403.3Z" fill="#fff" /><path d="M329.4,395.7 L343.0,392.3 L358.2,388.9 L363.3,393.1 L351.5,397.4 L337.9,400.8 L331.1,399.1Z" fill="#fff" /><path d="M293.9,366.9 L307.4,366.9 L321.0,368.6 L331.1,371.1 L324.4,375.4 L307.4,374.5 L297.2,372.0Z" fill="#fff" /><path d="M256.6,372.0 L266.8,373.7 L276.9,378.7 L271.8,381.3 L261.7,378.7Z" fill="#fff" /><path d="M263.4,390.6 L270.1,392.3 L273.5,396.5 L266.8,397.4Z" fill="#fff" /><path d="M414.1,385.5 L424.3,380.4 L436.2,373.7 L439.5,378.7 L431.1,385.5 L417.5,390.6Z" fill="#fff" /><ellipse cx="162.5" cy="411.0" rx="2.4" ry="1.8" fill="#d0d0d0"/><ellipse cx="166.3" cy="414.3" rx="2.5" ry="1.9" fill="#d0d0d0"/><ellipse cx="165.2" cy="416.6" rx="2.5" ry="1.9" fill="#d0d0d0"/><ellipse cx="170.2" cy="421.7" rx="1.7" ry="1.1" fill="#d0d0d0"/><ellipse cx="172.1" cy="422.4" rx="2.1" ry="1.5" fill="#d0d0d0"/><ellipse cx="175.0" cy="424.9" rx="1.8" ry="1.2" fill="#d0d0d0"/><ellipse cx="176.4" cy="431.8" rx="2.4" ry="1.8" fill="#d0d0d0"/><ellipse cx="178.5" cy="434.7" rx="1.7" ry="1.1" fill="#d0d0d0"/><ellipse cx="182.8" cy="435.4" rx="1.6" ry="1.0" fill="#d0d0d0"/><ellipse cx="186.4" cy="439.1" rx="1.8" ry="1.2" fill="#d0d0d0"/><ellipse cx="189.4" cy="445.1" rx="1.9" ry="1.3" fill="#d0d0d0"/><ellipse cx="191.8" cy="447.2" rx="2.3" ry="1.7" fill="#d0d0d0"/><ellipse cx="201.8" cy="431.8" rx="2.3" ry="1.7" fill="#d0d0d0"/><ellipse cx="208.2" cy="434.4" rx="1.9" ry="1.3" fill="#d0d0d0"/><ellipse cx="209.2" cy="434.3" rx="1.7" ry="1.1" fill="#d0d0d0"/><ellipse cx="211.4" cy="437.7" rx="2.2" ry="1.6" fill="#d0d0d0"/><ellipse cx="214.5" cy="442.0" rx="1.9" ry="1.3" fill="#d0d0d0"/><ellipse cx="219.1" cy="445.4" rx="2.1" ry="1.5" fill="#d0d0d0"/><ellipse cx="222.4" cy="446.8" rx="2.3" ry="1.7" fill="#d0d0d0"/><ellipse cx="224.8" cy="451.6" rx="1.6" ry="1.0" fill="#d0d0d0"/><ellipse cx="230.9" cy="453.9" rx="1.6" ry="1.0" fill="#d0d0d0"/><ellipse cx="234.4" cy="454.8" rx="2.2" ry="1.6" fill="#d0d0d0"/><ellipse cx="234.7" cy="456.4" rx="1.8" ry="1.2" fill="#d0d0d0"/><ellipse cx="241.8" cy="459.8" rx="2.4" ry="1.8" fill="#d0d0d0"/></g><line x1="89.80" y1="41" x2="89.80" y2="550" stroke="#000" stroke-width="1.1" stroke-dasharray="3 5.28"/><line x1="168.56" y1="41" x2="168.56" y2="550" stroke="#000" stroke-width="1.1" stroke-dasharray="3 5.28"/><line x1="247.32" y1="41" x2="247.32" y2="550" stroke="#000" stroke-width="1.1" stroke-dasharray="3 5.28"/><line x1="326.08" y1="41" x2="326.08" y2="550" stroke="#000" stroke-width="1.1" stroke-dasharray="3 5.28"/><line x1="404.84" y1="41" x2="404.84" y2="550" stroke="#000" stroke-width="1.1" stroke-dasharray="3 5.28"/><line x1="483.60" y1="41" x2="483.60" y2="550" stroke="#000" stroke-width="1.1" stroke-dasharray="3 5.28"/><line x1="13" y1="90.60" x2="486" y2="90.60" stroke="#000" stroke-width="1.1" stroke-dasharray="3.2 4.9"/><line x1="13" y1="175.16" x2="486" y2="175.16" stroke="#000" stroke-width="1.1" stroke-dasharray="3.2 4.9"/><line x1="13" y1="259.72" x2="486" y2="259.72" stroke="#000" stroke-width="1.1" stroke-dasharray="3.2 4.9"/><line x1="13" y1="344.28" x2="486" y2="344.28" stroke="#000" stroke-width="1.1" stroke-dasharray="3.2 4.9"/><line x1="13" y1="428.84" x2="486" y2="428.84" stroke="#000" stroke-width="1.1" stroke-dasharray="3.2 4.9"/><line x1="13" y1="513.40" x2="486" y2="513.40" stroke="#000" stroke-width="1.1" stroke-dasharray="3.2 4.9"/><path d="M12.9,474.6 Q249.2,380.7 485.6,249.9" fill="none" stroke="#000" stroke-width="1.1" stroke-dasharray="11.5 11.5"/><path d="M86.4,548.3 Q286.0,465.0 485.6,357.5" fill="none" stroke="#000" stroke-width="1.1" stroke-dasharray="11.5 11.5"/><text x="257.6" y="91.40" font-size="12.5">-18</text><text x="257.6" y="175.96" font-size="12.5">-20</text><text x="257.6" y="260.52" font-size="12.5">-22</text><text x="257.6" y="345.08" font-size="12.5">-24</text><text x="257.6" y="429.64" font-size="12.5">-26</text><text x="257.6" y="514.20" font-size="12.5">-28</text><text x="89.80" y="281" font-size="12.5" text-anchor="middle">56</text><text x="168.56" y="281" font-size="12.5" text-anchor="middle">58</text><text x="247.32" y="281" font-size="12.5" text-anchor="middle">60</text><text x="326.08" y="281" font-size="12.5" text-anchor="middle">62</text><text x="404.84" y="281" font-size="12.5" text-anchor="middle">64</text><text x="483.60" y="281" font-size="12.5" text-anchor="middle">66</text><rect x="242.9" y="291.9" width="13" height="5.2" fill="#000"/><rect x="246.8" y="288.0" width="5.2" height="13" fill="#000"/><rect x="494.9" y="531.08" width="9.0" height="8.76" fill="#f4f4f4"/><rect x="494.9" y="522.61" width="9.0" height="8.76" fill="#ededed"/><rect x="494.9" y="514.15" width="9.0" height="8.76" fill="#e5e5e5"/><rect x="494.9" y="505.69" width="9.0" height="8.76" fill="#dedede"/><rect x="494.9" y="497.23" width="9.0" height="8.76" fill="#d6d6d6"/><rect x="494.9" y="488.76" width="9.0" height="8.76" fill="#cecece"/><rect x="494.9" y="480.30" width="9.0" height="8.76" fill="#c7c7c7"/><rect x="494.9" y="471.84" width="9.0" height="8.76" fill="#bfbfbf"/><rect x="494.9" y="463.38" width="9.0" height="8.76" fill="#b8b8b8"/><rect x="494.9" y="454.91" width="9.0" height="8.76" fill="#b0b0b0"/><rect x="494.9" y="446.45" width="9.0" height="8.76" fill="#a8a8a8"/><rect x="494.9" y="437.99" width="9.0" height="8.76" fill="#a1a1a1"/><rect x="494.9" y="429.52" width="9.0" height="8.76" fill="#999999"/><rect x="494.9" y="421.06" width="9.0" height="8.76" fill="#929292"/><rect x="494.9" y="412.60" width="9.0" height="8.76" fill="#7cdb84"/><rect x="494.9" y="404.14" width="9.0" height="8.76" fill="#75d07b"/><rect x="494.9" y="395.67" width="9.0" height="8.76" fill="#6dc573"/><rect x="494.9" y="387.21" width="9.0" height="8.76" fill="#65ba6b"/><rect x="494.9" y="378.75" width="9.0" height="8.76" fill="#5eaf62"/><rect x="494.9" y="370.29" width="9.0" height="8.76" fill="#d0d8ff"/><rect x="494.9" y="361.82" width="9.0" height="8.76" fill="#b8d0ff"/><rect x="494.9" y="353.36" width="9.0" height="8.76" fill="#a0c8ff"/><rect x="494.9" y="344.90" width="9.0" height="8.76" fill="#80c0ff"/><rect x="494.9" y="336.44" width="9.0" height="8.76" fill="#60b0ff"/><rect x="494.9" y="327.98" width="9.0" height="8.76" fill="#50aaff"/><rect x="494.9" y="319.51" width="9.0" height="8.76" fill="#4888f0"/><rect x="494.9" y="311.05" width="9.0" height="8.76" fill="#4068f8"/><rect x="494.9" y="302.59" width="9.0" height="8.76" fill="#3a48ff"/><rect x="494.9" y="294.12" width="9.0" height="8.76" fill="#2828ff"/><rect x="494.9" y="285.66" width="9.0" height="8.76" fill="#0000fb"/><rect x="494.9" y="277.20" width="9.0" height="8.76" fill="#0000f4"/><rect x="494.9" y="268.74" width="9.0" height="8.76" fill="#0000d9"/><rect x="494.9" y="260.27" width="9.0" height="8.76" fill="#0000ca"/><rect x="494.9" y="251.81" width="9.0" height="8.76" fill="#0000bb"/><rect x="494.9" y="243.35" width="9.0" height="8.76" fill="#fffa00"/><rect x="494.9" y="234.89" width="9.0" height="8.76" fill="#fff000"/><rect x="494.9" y="226.43" width="9.0" height="8.76" fill="#ffe600"/><rect x="494.9" y="217.96" width="9.0" height="8.76" fill="#ffdb00"/><rect x="494.9" y="209.50" width="9.0" height="8.76" fill="#ffd100"/><rect x="494.9" y="201.04" width="9.0" height="8.76" fill="#ff8900"/><rect x="494.9" y="192.57" width="9.0" height="8.76" fill="#ff8400"/><rect x="494.9" y="184.11" width="9.0" height="8.76" fill="#ff7e00"/><rect x="494.9" y="175.65" width="9.0" height="8.76" fill="#ff7800"/><rect x="494.9" y="167.19" width="9.0" height="8.76" fill="#ff7300"/><rect x="494.9" y="158.72" width="9.0" height="8.76" fill="#ff3c00"/><rect x="494.9" y="150.26" width="9.0" height="8.76" fill="#ff3300"/><rect x="494.9" y="141.80" width="9.0" height="8.76" fill="#ff2a00"/><rect x="494.9" y="133.34" width="9.0" height="8.76" fill="#ff2100"/><rect x="494.9" y="124.88" width="9.0" height="8.76" fill="#ff1800"/><rect x="494.9" y="116.41" width="9.0" height="8.76" fill="#c30101"/><rect x="494.9" y="107.95" width="9.0" height="8.76" fill="#ba0404"/><rect x="494.9" y="99.49" width="9.0" height="8.76" fill="#b00606"/><rect x="494.9" y="91.02" width="9.0" height="8.76" fill="#a60808"/><rect x="494.9" y="82.56" width="9.0" height="8.76" fill="#9d0b0b"/><rect x="494.9" y="74.10" width="9.0" height="8.76" fill="#5f1111"/><rect x="494.9" y="65.64" width="9.0" height="8.76" fill="#5e1414"/><rect x="494.9" y="57.17" width="9.0" height="8.76" fill="#5d1616"/><rect x="494.9" y="48.71" width="9.0" height="8.76" fill="#5c1818"/><rect x="494.9" y="40.25" width="9.0" height="8.76" fill="#5b1b1b"/><line x1="503.9" y1="548.00" x2="506.09999999999997" y2="548.00" stroke="#000" stroke-width="0.9"/><text x="532.5" y="557.00" font-size="20" text-anchor="middle">0.0</text><line x1="503.9" y1="497.23" x2="506.09999999999997" y2="497.23" stroke="#000" stroke-width="0.9"/><text x="532.5" y="506.23" font-size="20" text-anchor="middle">2.0</text><line x1="503.9" y1="446.45" x2="506.09999999999997" y2="446.45" stroke="#000" stroke-width="0.9"/><text x="532.5" y="455.45" font-size="20" text-anchor="middle">4.0</text><line x1="503.9" y1="395.67" x2="506.09999999999997" y2="395.67" stroke="#000" stroke-width="0.9"/><text x="532.5" y="404.67" font-size="20" text-anchor="middle">6.0</text><line x1="503.9" y1="344.90" x2="506.09999999999997" y2="344.90" stroke="#000" stroke-width="0.9"/><text x="532.5" y="353.90" font-size="20" text-anchor="middle">8.0</text><line x1="503.9" y1="294.12" x2="506.09999999999997" y2="294.12" stroke="#000" stroke-width="0.9"/><text x="532.5" y="303.12" font-size="20" text-anchor="middle">10.0</text><line x1="503.9" y1="243.35" x2="506.09999999999997" y2="243.35" stroke="#000" stroke-width="0.9"/><text x="532.5" y="252.35" font-size="20" text-anchor="middle">12.0</text><line x1="503.9" y1="192.57" x2="506.09999999999997" y2="192.57" stroke="#000" stroke-width="0.9"/><text x="532.5" y="201.57" font-size="20" text-anchor="middle">14.0</text><line x1="503.9" y1="141.80" x2="506.09999999999997" y2="141.80" stroke="#000" stroke-width="0.9"/><text x="532.5" y="150.80" font-size="20" text-anchor="middle">16.0</text><line x1="503.9" y1="91.02" x2="506.09999999999997" y2="91.02" stroke="#000" stroke-width="0.9"/><text x="532.5" y="100.02" font-size="20" text-anchor="middle">18.0</text><text x="38" y="66" font-size="25">2A23 storm height (km)</text><text x="440" y="523" font-size="29">(i)</text></g>
</svg></body></html>
